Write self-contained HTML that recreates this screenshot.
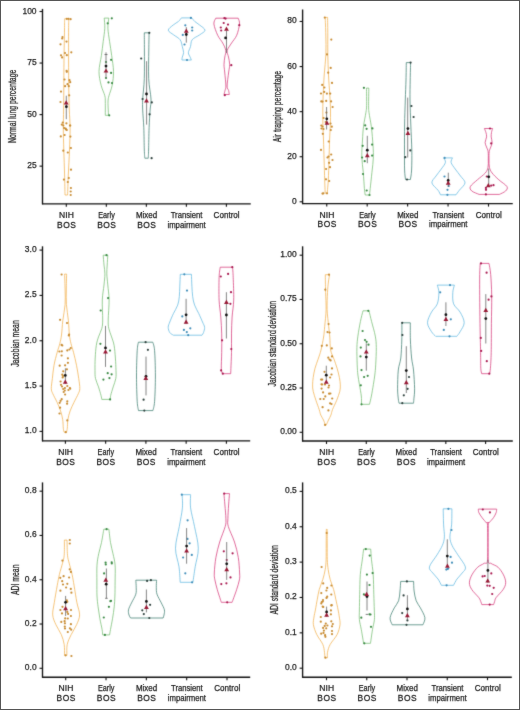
<!DOCTYPE html><html><head><meta charset="utf-8"><style>
html,body{margin:0;padding:0;background:#fff;}
svg{display:block;} text{font-family:"Liberation Sans", sans-serif;fill:#1a1a1a;stroke:#1a1a1a;stroke-width:0.25px;} .tk{font-size:9.2px;} .xl{font-size:8.8px;} .yl{font-size:10.3px;}
</style></head><body>
<svg width="520" height="710" viewBox="0 0 520 710">
<defs><filter id="bl" x="0" y="0" width="520" height="710" filterUnits="userSpaceOnUse" color-interpolation-filters="sRGB"><feConvolveMatrix order="3" kernelMatrix="0.02 0.08 0.02 0.08 0.6 0.08 0.02 0.08 0.02" edgeMode="duplicate" preserveAlpha="false"/></filter><filter id="bl2" x="0" y="0" width="520" height="710" filterUnits="userSpaceOnUse" color-interpolation-filters="sRGB"><feConvolveMatrix order="3" kernelMatrix="0.01 0.05 0.01 0.05 0.76 0.05 0.01 0.05 0.01" edgeMode="duplicate" preserveAlpha="false"/></filter></defs>
<rect x="0" y="0" width="520" height="710" fill="#fff"/>
<g filter="url(#bl)">
<line x1="42.5" y1="8.9" x2="42.5" y2="204.3" stroke="#111" stroke-width="1.35"/>
<line x1="42.0" y1="203.8" x2="250.75" y2="203.8" stroke="#111" stroke-width="1.35"/>
<line x1="39.5" y1="166.15" x2="42.5" y2="166.15" stroke="#111" stroke-width="1.1"/>
<line x1="39.5" y1="114.60" x2="42.5" y2="114.60" stroke="#111" stroke-width="1.1"/>
<line x1="39.5" y1="63.05" x2="42.5" y2="63.05" stroke="#111" stroke-width="1.1"/>
<line x1="39.5" y1="11.50" x2="42.5" y2="11.50" stroke="#111" stroke-width="1.1"/>
<line x1="66.3" y1="203.8" x2="66.3" y2="206.8" stroke="#111" stroke-width="1.1"/>
<line x1="106.325" y1="203.8" x2="106.325" y2="206.8" stroke="#111" stroke-width="1.1"/>
<line x1="146.35000000000002" y1="203.8" x2="146.35000000000002" y2="206.8" stroke="#111" stroke-width="1.1"/>
<line x1="186.375" y1="203.8" x2="186.375" y2="206.8" stroke="#111" stroke-width="1.1"/>
<line x1="226.40000000000003" y1="203.8" x2="226.40000000000003" y2="206.8" stroke="#111" stroke-width="1.1"/>
<line x1="302.6" y1="9.5" x2="302.6" y2="204.1" stroke="#111" stroke-width="1.35"/>
<line x1="302.1" y1="203.6" x2="512.75" y2="203.6" stroke="#111" stroke-width="1.35"/>
<line x1="299.6" y1="201.80" x2="302.6" y2="201.80" stroke="#111" stroke-width="1.1"/>
<line x1="299.6" y1="156.72" x2="302.6" y2="156.72" stroke="#111" stroke-width="1.1"/>
<line x1="299.6" y1="111.64" x2="302.6" y2="111.64" stroke="#111" stroke-width="1.1"/>
<line x1="299.6" y1="66.56" x2="302.6" y2="66.56" stroke="#111" stroke-width="1.1"/>
<line x1="299.6" y1="21.48" x2="302.6" y2="21.48" stroke="#111" stroke-width="1.1"/>
<line x1="326.75" y1="203.6" x2="326.75" y2="206.6" stroke="#111" stroke-width="1.1"/>
<line x1="367.1875" y1="203.6" x2="367.1875" y2="206.6" stroke="#111" stroke-width="1.1"/>
<line x1="407.625" y1="203.6" x2="407.625" y2="206.6" stroke="#111" stroke-width="1.1"/>
<line x1="448.0625" y1="203.6" x2="448.0625" y2="206.6" stroke="#111" stroke-width="1.1"/>
<line x1="488.5" y1="203.6" x2="488.5" y2="206.6" stroke="#111" stroke-width="1.1"/>
<line x1="42.5" y1="246.3" x2="42.5" y2="441.35" stroke="#111" stroke-width="1.35"/>
<line x1="42.0" y1="440.85" x2="250.2" y2="440.85" stroke="#111" stroke-width="1.35"/>
<line x1="39.5" y1="431.40" x2="42.5" y2="431.40" stroke="#111" stroke-width="1.1"/>
<line x1="39.5" y1="386.07" x2="42.5" y2="386.07" stroke="#111" stroke-width="1.1"/>
<line x1="39.5" y1="340.75" x2="42.5" y2="340.75" stroke="#111" stroke-width="1.1"/>
<line x1="39.5" y1="295.42" x2="42.5" y2="295.42" stroke="#111" stroke-width="1.1"/>
<line x1="39.5" y1="250.10" x2="42.5" y2="250.10" stroke="#111" stroke-width="1.1"/>
<line x1="65.4" y1="440.85" x2="65.4" y2="443.85" stroke="#111" stroke-width="1.1"/>
<line x1="105.65" y1="440.85" x2="105.65" y2="443.85" stroke="#111" stroke-width="1.1"/>
<line x1="145.9" y1="440.85" x2="145.9" y2="443.85" stroke="#111" stroke-width="1.1"/>
<line x1="186.15" y1="440.85" x2="186.15" y2="443.85" stroke="#111" stroke-width="1.1"/>
<line x1="226.4" y1="440.85" x2="226.4" y2="443.85" stroke="#111" stroke-width="1.1"/>
<line x1="302.6" y1="246.3" x2="302.6" y2="441.5" stroke="#111" stroke-width="1.35"/>
<line x1="302.1" y1="441.0" x2="512.8" y2="441.0" stroke="#111" stroke-width="1.35"/>
<line x1="299.6" y1="432.30" x2="302.6" y2="432.30" stroke="#111" stroke-width="1.1"/>
<line x1="299.6" y1="388.03" x2="302.6" y2="388.03" stroke="#111" stroke-width="1.1"/>
<line x1="299.6" y1="343.75" x2="302.6" y2="343.75" stroke="#111" stroke-width="1.1"/>
<line x1="299.6" y1="299.48" x2="302.6" y2="299.48" stroke="#111" stroke-width="1.1"/>
<line x1="299.6" y1="255.20" x2="302.6" y2="255.20" stroke="#111" stroke-width="1.1"/>
<line x1="326.5" y1="441.0" x2="326.5" y2="444.0" stroke="#111" stroke-width="1.1"/>
<line x1="366.275" y1="441.0" x2="366.275" y2="444.0" stroke="#111" stroke-width="1.1"/>
<line x1="406.05" y1="441.0" x2="406.05" y2="444.0" stroke="#111" stroke-width="1.1"/>
<line x1="445.82500000000005" y1="441.0" x2="445.82500000000005" y2="444.0" stroke="#111" stroke-width="1.1"/>
<line x1="485.6" y1="441.0" x2="485.6" y2="444.0" stroke="#111" stroke-width="1.1"/>
<line x1="42.5" y1="482.4" x2="42.5" y2="677.7" stroke="#111" stroke-width="1.35"/>
<line x1="42.0" y1="677.2" x2="250.2" y2="677.2" stroke="#111" stroke-width="1.35"/>
<line x1="39.5" y1="668.30" x2="42.5" y2="668.30" stroke="#111" stroke-width="1.1"/>
<line x1="39.5" y1="624.02" x2="42.5" y2="624.02" stroke="#111" stroke-width="1.1"/>
<line x1="39.5" y1="579.74" x2="42.5" y2="579.74" stroke="#111" stroke-width="1.1"/>
<line x1="39.5" y1="535.46" x2="42.5" y2="535.46" stroke="#111" stroke-width="1.1"/>
<line x1="39.5" y1="491.18" x2="42.5" y2="491.18" stroke="#111" stroke-width="1.1"/>
<line x1="65.7" y1="677.2" x2="65.7" y2="680.2" stroke="#111" stroke-width="1.1"/>
<line x1="106.025" y1="677.2" x2="106.025" y2="680.2" stroke="#111" stroke-width="1.1"/>
<line x1="146.35000000000002" y1="677.2" x2="146.35000000000002" y2="680.2" stroke="#111" stroke-width="1.1"/>
<line x1="186.675" y1="677.2" x2="186.675" y2="680.2" stroke="#111" stroke-width="1.1"/>
<line x1="227.0" y1="677.2" x2="227.0" y2="680.2" stroke="#111" stroke-width="1.1"/>
<line x1="302.6" y1="482.4" x2="302.6" y2="677.7" stroke="#111" stroke-width="1.35"/>
<line x1="302.1" y1="677.2" x2="511.8" y2="677.2" stroke="#111" stroke-width="1.35"/>
<line x1="299.6" y1="668.20" x2="302.6" y2="668.20" stroke="#111" stroke-width="1.1"/>
<line x1="299.6" y1="632.84" x2="302.6" y2="632.84" stroke="#111" stroke-width="1.1"/>
<line x1="299.6" y1="597.48" x2="302.6" y2="597.48" stroke="#111" stroke-width="1.1"/>
<line x1="299.6" y1="562.12" x2="302.6" y2="562.12" stroke="#111" stroke-width="1.1"/>
<line x1="299.6" y1="526.76" x2="302.6" y2="526.76" stroke="#111" stroke-width="1.1"/>
<line x1="299.6" y1="491.40" x2="302.6" y2="491.40" stroke="#111" stroke-width="1.1"/>
<line x1="326.5" y1="677.2" x2="326.5" y2="680.2" stroke="#111" stroke-width="1.1"/>
<line x1="366.75" y1="677.2" x2="366.75" y2="680.2" stroke="#111" stroke-width="1.1"/>
<line x1="407.0" y1="677.2" x2="407.0" y2="680.2" stroke="#111" stroke-width="1.1"/>
<line x1="447.25" y1="677.2" x2="447.25" y2="680.2" stroke="#111" stroke-width="1.1"/>
<line x1="487.5" y1="677.2" x2="487.5" y2="680.2" stroke="#111" stroke-width="1.1"/>
<path d="M64.60,18.80 C64.58,20.67 64.60,23.13 64.50,30.00 C64.40,36.87 64.12,50.00 64.00,60.00 C63.88,70.00 63.87,81.67 63.80,90.00 C63.73,98.33 63.68,103.67 63.60,110.00 C63.52,116.33 63.27,121.33 63.30,128.00 C63.33,134.67 63.58,142.17 63.80,150.00 C64.02,157.83 64.40,167.50 64.60,175.00 C64.80,182.50 64.93,191.67 65.00,195.00 L67.60,195.00 C67.72,191.67 67.98,182.50 68.30,175.00 C68.62,167.50 69.20,157.83 69.50,150.00 C69.80,142.17 70.13,134.67 70.10,128.00 C70.07,121.33 69.52,116.33 69.30,110.00 C69.08,103.67 68.92,98.33 68.80,90.00 C68.68,81.67 68.63,70.00 68.60,60.00 C68.57,50.00 68.57,36.87 68.60,30.00 C68.63,23.13 68.77,20.67 68.80,18.80 Z" fill="none" stroke="#F2B04E" stroke-width="0.75" stroke-linejoin="round"/>
<path d="M104.20,18.10 C104.30,19.78 104.97,24.28 104.80,28.20 C104.63,32.12 103.77,37.03 103.20,41.60 C102.63,46.17 102.10,50.63 101.40,55.60 C100.70,60.57 99.05,66.47 99.00,71.40 C98.95,76.33 100.13,81.15 101.10,85.20 C102.07,89.25 104.10,92.90 104.80,95.70 C105.50,98.50 105.22,98.73 105.30,102.00 C105.38,105.27 105.30,113.08 105.30,115.30 L108.50,115.30 C108.42,113.08 107.92,105.27 108.00,102.00 C108.08,98.73 108.30,98.50 109.00,95.70 C109.70,92.90 111.45,89.25 112.20,85.20 C112.95,81.15 113.58,76.33 113.50,71.40 C113.42,66.47 112.35,60.57 111.70,55.60 C111.05,50.63 110.23,46.17 109.60,41.60 C108.97,37.03 108.03,32.12 107.90,28.20 C107.77,24.28 108.65,19.78 108.80,18.10 Z" fill="none" stroke="#74BC70" stroke-width="0.75" stroke-linejoin="round"/>
<path d="M144.30,32.80 C144.32,35.67 144.40,42.35 144.40,50.00 C144.40,57.65 144.58,70.53 144.30,78.70 C144.02,86.87 142.97,93.78 142.70,99.00 C142.43,104.22 142.52,105.22 142.70,110.00 C142.88,114.78 143.53,121.03 143.80,127.70 C144.07,134.37 144.13,144.92 144.30,150.00 C144.47,155.08 144.72,156.83 144.80,158.20 L148.30,158.20 C148.35,156.83 148.47,155.08 148.60,150.00 C148.73,144.92 148.85,134.37 149.10,127.70 C149.35,121.03 149.78,114.78 150.10,110.00 C150.42,105.22 151.23,104.22 151.00,99.00 C150.77,93.78 149.07,86.87 148.70,78.70 C148.33,70.53 148.73,57.65 148.80,50.00 C148.87,42.35 149.05,35.67 149.10,32.80 Z" fill="none" stroke="#3E7D70" stroke-width="0.75" stroke-linejoin="round"/>
<path d="M181.40,17.90 C180.90,18.50 179.77,20.32 178.40,21.50 C177.03,22.68 174.88,23.55 173.20,25.00 C171.52,26.45 168.22,28.55 168.30,30.20 C168.38,31.85 171.73,33.32 173.70,34.90 C175.67,36.48 178.67,37.75 180.10,39.70 C181.53,41.65 181.72,44.43 182.30,46.60 C182.88,48.77 183.60,50.97 183.60,52.70 C183.60,54.43 182.58,55.78 182.30,57.00 C182.02,58.22 181.97,59.50 181.90,60.00 L191.40,60.00 C191.18,59.50 190.60,58.22 190.10,57.00 C189.60,55.78 188.33,54.43 188.40,52.70 C188.47,50.97 189.87,48.77 190.50,46.60 C191.13,44.43 190.68,41.65 192.20,39.70 C193.72,37.75 197.47,36.48 199.60,34.90 C201.73,33.32 205.00,31.85 205.00,30.20 C205.00,28.55 201.30,26.45 199.60,25.00 C197.90,23.55 196.10,22.68 194.80,21.50 C193.50,20.32 192.30,18.50 191.80,17.90 Z" fill="none" stroke="#62B8E0" stroke-width="0.75" stroke-linejoin="round"/>
<path d="M215.80,18.20 C215.48,19.17 213.58,21.15 213.90,24.00 C214.22,26.85 216.23,32.13 217.70,35.30 C219.17,38.47 221.35,40.45 222.70,43.00 C224.05,45.55 225.45,48.27 225.80,50.60 C226.15,52.93 225.10,54.68 224.80,57.00 C224.50,59.32 224.02,62.00 224.00,64.50 C223.98,67.00 224.38,68.42 224.70,72.00 C225.02,75.58 225.85,82.92 225.90,86.00 C225.95,89.08 225.32,89.08 225.00,90.50 C224.68,91.92 224.17,93.83 224.00,94.50 L229.30,94.50 C229.18,93.83 228.97,91.92 228.60,90.50 C228.23,89.08 227.08,89.08 227.10,86.00 C227.12,82.92 228.27,75.58 228.70,72.00 C229.13,68.42 229.73,67.00 229.70,64.50 C229.67,62.00 228.92,59.32 228.50,57.00 C228.08,54.68 226.68,52.93 227.20,50.60 C227.72,48.27 230.02,45.55 231.60,43.00 C233.18,40.45 235.38,38.47 236.70,35.30 C238.02,32.13 239.25,26.85 239.50,24.00 C239.75,21.15 238.42,19.17 238.20,18.20 Z" fill="none" stroke="#D63A79" stroke-width="0.75" stroke-linejoin="round"/>
<circle cx="66.8" cy="18.8" r="1.1" fill="#C88C33"/>
<circle cx="68.5" cy="18.8" r="1.1" fill="#C88C33"/>
<circle cx="70.6" cy="19.2" r="1.1" fill="#C88C33"/>
<circle cx="62.5" cy="37" r="1.1" fill="#C88C33"/>
<circle cx="62.2" cy="38.5" r="1.1" fill="#C88C33"/>
<circle cx="60.5" cy="44.3" r="1.1" fill="#C88C33"/>
<circle cx="66.5" cy="41.6" r="1.1" fill="#C88C33"/>
<circle cx="71.3" cy="52.3" r="1.1" fill="#C88C33"/>
<circle cx="65" cy="53" r="1.1" fill="#C88C33"/>
<circle cx="66.8" cy="55.2" r="1.1" fill="#C88C33"/>
<circle cx="61" cy="55.3" r="1.1" fill="#C88C33"/>
<circle cx="62.1" cy="57.4" r="1.1" fill="#C88C33"/>
<circle cx="66.6" cy="70.8" r="1.1" fill="#C88C33"/>
<circle cx="66.8" cy="71.8" r="1.1" fill="#C88C33"/>
<circle cx="64.5" cy="79.5" r="1.1" fill="#C88C33"/>
<circle cx="69.5" cy="80.2" r="1.1" fill="#C88C33"/>
<circle cx="70.2" cy="82.2" r="1.1" fill="#C88C33"/>
<circle cx="67.5" cy="84.2" r="1.1" fill="#C88C33"/>
<circle cx="68.8" cy="86.2" r="1.1" fill="#C88C33"/>
<circle cx="65.1" cy="86.2" r="1.1" fill="#C88C33"/>
<circle cx="61" cy="91.6" r="1.1" fill="#C88C33"/>
<circle cx="69.2" cy="95.3" r="1.1" fill="#C88C33"/>
<circle cx="60.5" cy="102" r="1.1" fill="#C88C33"/>
<circle cx="62.8" cy="122.6" r="1.1" fill="#C88C33"/>
<circle cx="66.4" cy="123.3" r="1.1" fill="#C88C33"/>
<circle cx="70.2" cy="125.5" r="1.1" fill="#C88C33"/>
<circle cx="61.8" cy="124.6" r="1.1" fill="#C88C33"/>
<circle cx="64.1" cy="128" r="1.1" fill="#C88C33"/>
<circle cx="65.9" cy="129.3" r="1.1" fill="#C88C33"/>
<circle cx="63.3" cy="125.5" r="1.1" fill="#C88C33"/>
<circle cx="65.6" cy="128.5" r="1.1" fill="#C88C33"/>
<circle cx="66.8" cy="130" r="1.1" fill="#C88C33"/>
<circle cx="70" cy="125.5" r="1.1" fill="#C88C33"/>
<circle cx="60.8" cy="136.4" r="1.1" fill="#C88C33"/>
<circle cx="64.6" cy="135" r="1.1" fill="#C88C33"/>
<circle cx="70.4" cy="136.6" r="1.1" fill="#C88C33"/>
<circle cx="63.3" cy="150.7" r="1.1" fill="#C88C33"/>
<circle cx="70.9" cy="148" r="1.1" fill="#C88C33"/>
<circle cx="67.8" cy="152.5" r="1.1" fill="#C88C33"/>
<circle cx="71" cy="169.7" r="1.1" fill="#C88C33"/>
<circle cx="63.9" cy="179.6" r="1.1" fill="#C88C33"/>
<circle cx="68.8" cy="178" r="1.1" fill="#C88C33"/>
<circle cx="67.8" cy="182" r="1.1" fill="#C88C33"/>
<circle cx="70.9" cy="188" r="1.1" fill="#C88C33"/>
<circle cx="70.7" cy="191.5" r="1.1" fill="#C88C33"/>
<circle cx="70.7" cy="195" r="1.1" fill="#C88C33"/>
<circle cx="111.8" cy="18.3" r="1.1" fill="#3A8A44"/>
<circle cx="107.7" cy="23.3" r="1.1" fill="#3A8A44"/>
<circle cx="111.1" cy="59.8" r="1.1" fill="#3A8A44"/>
<circle cx="111.1" cy="72.9" r="1.1" fill="#3A8A44"/>
<circle cx="108.5" cy="82.4" r="1.1" fill="#3A8A44"/>
<circle cx="112" cy="83.1" r="1.1" fill="#3A8A44"/>
<circle cx="109.2" cy="115.3" r="1.1" fill="#3A8A44"/>
<circle cx="106" cy="62" r="1.1" fill="#3A8A44"/>
<circle cx="106" cy="78" r="1.1" fill="#3A8A44"/>
<circle cx="149.3" cy="32.8" r="1.1" fill="#2C3F3B"/>
<circle cx="141.2" cy="58.5" r="1.1" fill="#2C3F3B"/>
<circle cx="142.6" cy="99" r="1.1" fill="#2C3F3B"/>
<circle cx="151.8" cy="102.4" r="1.1" fill="#2C3F3B"/>
<circle cx="149.6" cy="114.3" r="1.1" fill="#2C3F3B"/>
<circle cx="151.6" cy="158.2" r="1.1" fill="#2C3F3B"/>
<circle cx="190.9" cy="17.9" r="1.1" fill="#3F8DB8"/>
<circle cx="185.3" cy="25.3" r="1.1" fill="#3F8DB8"/>
<circle cx="192.2" cy="27.5" r="1.1" fill="#3F8DB8"/>
<circle cx="192.2" cy="30.5" r="1.1" fill="#3F8DB8"/>
<circle cx="182.8" cy="34.9" r="1.1" fill="#3F8DB8"/>
<circle cx="184.5" cy="44.5" r="1.1" fill="#3F8DB8"/>
<circle cx="187" cy="60" r="1.1" fill="#3F8DB8"/>
<circle cx="224.4" cy="18.2" r="1.1" fill="#A8184F"/>
<circle cx="225.6" cy="18.6" r="1.1" fill="#A8184F"/>
<circle cx="223.7" cy="23" r="1.1" fill="#A8184F"/>
<circle cx="228" cy="24.6" r="1.1" fill="#A8184F"/>
<circle cx="220.8" cy="27.5" r="1.1" fill="#A8184F"/>
<circle cx="221.2" cy="30.5" r="1.1" fill="#A8184F"/>
<circle cx="231.3" cy="65.2" r="1.1" fill="#A8184F"/>
<circle cx="224.8" cy="95.2" r="1.1" fill="#A8184F"/>
<circle cx="239.3" cy="25.2" r="1.1" fill="#A8184F"/>
<line x1="66.3" y1="95.7" x2="66.3" y2="119.2" stroke="#666" stroke-width="0.8"/>
<circle cx="66.4" cy="106.7" r="1.4" fill="#111"/>
<path d="M63.80,104.50 L68.60,104.50 L66.20,100.30 Z" fill="#981834"/>
<line x1="106" y1="52.3" x2="106" y2="78" stroke="#666" stroke-width="0.8"/>
<line x1="104.5" y1="54.5" x2="107.5" y2="54.5" stroke="#5a5a5a" stroke-width="0.8"/>
<circle cx="106" cy="66.1" r="1.4" fill="#111"/>
<path d="M103.60,72.60 L108.40,72.60 L106.00,68.40 Z" fill="#981834"/>
<line x1="146.6" y1="61.2" x2="146.6" y2="124.6" stroke="#666" stroke-width="0.8"/>
<circle cx="146.5" cy="94" r="1.4" fill="#111"/>
<path d="M144.10,102.50 L148.90,102.50 L146.50,98.30 Z" fill="#981834"/>
<line x1="186.3" y1="27.1" x2="186.3" y2="42.7" stroke="#666" stroke-width="0.8"/>
<circle cx="186.3" cy="34.5" r="1.4" fill="#111"/>
<path d="M183.90,32.70 L188.70,32.70 L186.30,28.50 Z" fill="#981834"/>
<line x1="226.5" y1="30.9" x2="226.5" y2="53.1" stroke="#666" stroke-width="0.8"/>
<circle cx="225.6" cy="37.9" r="1.4" fill="#111"/>
<path d="M224.10,30.70 L228.90,30.70 L226.50,26.50 Z" fill="#981834"/>
<path d="M325.20,17.40 C325.30,20.33 325.68,28.83 325.80,35.00 C325.92,41.17 326.17,47.73 325.90,54.40 C325.63,61.07 324.65,68.23 324.20,75.00 C323.75,81.77 323.43,89.17 323.20,95.00 C322.97,100.83 322.85,105.00 322.80,110.00 C322.75,115.00 322.78,120.00 322.90,125.00 C323.02,130.00 323.30,134.17 323.50,140.00 C323.70,145.83 323.90,153.33 324.10,160.00 C324.30,166.67 324.52,174.47 324.70,180.00 C324.88,185.53 325.12,191.00 325.20,193.20 L327.20,193.20 C327.38,191.00 328.00,185.53 328.30,180.00 C328.60,174.47 328.78,166.67 329.00,160.00 C329.22,153.33 329.38,145.83 329.60,140.00 C329.82,134.17 330.15,130.00 330.30,125.00 C330.45,120.00 330.58,115.00 330.50,110.00 C330.42,105.00 330.13,100.83 329.80,95.00 C329.47,89.17 328.83,81.77 328.50,75.00 C328.17,68.23 327.92,61.07 327.80,54.40 C327.68,47.73 327.83,41.17 327.80,35.00 C327.77,28.83 327.63,20.33 327.60,17.40 Z" fill="none" stroke="#F2B04E" stroke-width="0.75" stroke-linejoin="round"/>
<path d="M366.50,88.10 C366.52,91.02 366.70,101.52 366.60,105.60 C366.50,109.68 366.42,109.12 365.90,112.60 C365.38,116.08 364.07,121.93 363.50,126.50 C362.93,131.07 362.78,134.97 362.50,140.00 C362.22,145.03 361.67,151.27 361.80,156.70 C361.93,162.13 362.87,167.30 363.30,172.60 C363.73,177.90 364.08,184.77 364.40,188.50 C364.72,192.23 365.07,193.92 365.20,195.00 L369.50,195.00 C369.62,193.92 369.80,192.23 370.20,188.50 C370.60,184.77 371.37,177.90 371.90,172.60 C372.43,167.30 373.28,162.13 373.40,156.70 C373.52,151.27 372.95,145.03 372.60,140.00 C372.25,134.97 371.90,131.07 371.30,126.50 C370.70,121.93 369.45,116.08 369.00,112.60 C368.55,109.12 368.63,109.68 368.60,105.60 C368.57,101.52 368.77,91.02 368.80,88.10 Z" fill="none" stroke="#74BC70" stroke-width="0.75" stroke-linejoin="round"/>
<path d="M406.30,62.60 C406.25,65.50 406.17,73.77 406.00,80.00 C405.83,86.23 405.53,92.50 405.30,100.00 C405.07,107.50 404.73,116.67 404.60,125.00 C404.47,133.33 404.50,142.50 404.50,150.00 C404.50,157.50 404.43,165.08 404.60,170.00 C404.77,174.92 405.35,177.92 405.50,179.50 L410.40,179.50 C410.60,177.92 411.37,174.92 411.60,170.00 C411.83,165.08 411.93,157.50 411.80,150.00 C411.67,142.50 411.10,133.33 410.80,125.00 C410.50,116.67 410.10,107.50 410.00,100.00 C409.90,92.50 410.10,86.23 410.20,80.00 C410.30,73.77 410.53,65.50 410.60,62.60 Z" fill="none" stroke="#3E7D70" stroke-width="0.75" stroke-linejoin="round"/>
<path d="M443.80,157.90 C444.07,158.67 445.82,160.65 445.40,162.50 C444.98,164.35 442.87,166.75 441.30,169.00 C439.73,171.25 437.57,173.68 436.00,176.00 C434.43,178.32 431.55,180.52 431.90,182.90 C432.25,185.28 436.67,188.32 438.10,190.30 C439.53,192.28 440.10,194.05 440.50,194.80 L456.00,194.80 C456.55,194.05 457.80,192.28 459.30,190.30 C460.80,188.32 464.80,185.28 465.00,182.90 C465.20,180.52 462.13,178.32 460.50,176.00 C458.87,173.68 456.77,171.25 455.20,169.00 C453.63,166.75 451.55,164.35 451.10,162.50 C450.65,160.65 452.27,158.67 452.50,157.90 Z" fill="none" stroke="#62B8E0" stroke-width="0.75" stroke-linejoin="round"/>
<path d="M484.40,128.50 C484.65,129.15 485.53,131.00 485.90,132.40 C486.27,133.80 486.73,135.22 486.60,136.90 C486.47,138.58 485.12,140.82 485.10,142.50 C485.08,144.18 486.00,145.48 486.50,147.00 C487.00,148.52 487.80,149.43 488.10,151.60 C488.40,153.77 488.32,157.38 488.30,160.00 C488.28,162.62 488.50,165.13 488.00,167.30 C487.50,169.47 487.07,170.92 485.30,173.00 C483.53,175.08 479.88,177.55 477.40,179.80 C474.92,182.05 471.33,184.63 470.40,186.50 C469.47,188.37 470.35,189.68 471.80,191.00 C473.25,192.32 477.88,193.83 479.10,194.40 L499.40,194.40 C500.43,193.83 504.35,192.32 505.60,191.00 C506.85,189.68 508.03,188.37 506.90,186.50 C505.77,184.63 501.27,182.05 498.80,179.80 C496.33,177.55 493.67,175.08 492.10,173.00 C490.53,170.92 489.92,169.47 489.40,167.30 C488.88,165.13 489.03,162.62 489.00,160.00 C488.97,157.38 488.90,153.77 489.20,151.60 C489.50,149.43 490.32,148.52 490.80,147.00 C491.28,145.48 492.03,144.18 492.10,142.50 C492.17,140.82 491.30,138.58 491.20,136.90 C491.10,135.22 491.27,133.80 491.50,132.40 C491.73,131.00 492.42,129.15 492.60,128.50 Z" fill="none" stroke="#D63A79" stroke-width="0.75" stroke-linejoin="round"/>
<circle cx="324.8" cy="17.6" r="1.1" fill="#C88C33"/>
<circle cx="331.3" cy="39.6" r="1.1" fill="#C88C33"/>
<circle cx="327" cy="54.4" r="1.1" fill="#C88C33"/>
<circle cx="330.7" cy="67.9" r="1.1" fill="#C88C33"/>
<circle cx="328.2" cy="72.7" r="1.1" fill="#C88C33"/>
<circle cx="322.2" cy="84.9" r="1.1" fill="#C88C33"/>
<circle cx="332" cy="82.9" r="1.1" fill="#C88C33"/>
<circle cx="324.4" cy="87.5" r="1.1" fill="#C88C33"/>
<circle cx="324.2" cy="91.9" r="1.1" fill="#C88C33"/>
<circle cx="321" cy="93.5" r="1.1" fill="#C88C33"/>
<circle cx="326.9" cy="93.6" r="1.1" fill="#C88C33"/>
<circle cx="330.2" cy="93.6" r="1.1" fill="#C88C33"/>
<circle cx="321.3" cy="101.4" r="1.1" fill="#C88C33"/>
<circle cx="322.5" cy="101.6" r="1.1" fill="#C88C33"/>
<circle cx="326.2" cy="100.9" r="1.1" fill="#C88C33"/>
<circle cx="331.1" cy="101.4" r="1.1" fill="#C88C33"/>
<circle cx="332.6" cy="107" r="1.1" fill="#C88C33"/>
<circle cx="326.4" cy="112.6" r="1.1" fill="#C88C33"/>
<circle cx="323.6" cy="118" r="1.1" fill="#C88C33"/>
<circle cx="325.7" cy="122" r="1.1" fill="#C88C33"/>
<circle cx="330.5" cy="123.5" r="1.1" fill="#C88C33"/>
<circle cx="321.3" cy="125.5" r="1.1" fill="#C88C33"/>
<circle cx="322.5" cy="126.5" r="1.1" fill="#C88C33"/>
<circle cx="321.5" cy="128.5" r="1.1" fill="#C88C33"/>
<circle cx="323.5" cy="129" r="1.1" fill="#C88C33"/>
<circle cx="331.8" cy="126.7" r="1.1" fill="#C88C33"/>
<circle cx="330.8" cy="130" r="1.1" fill="#C88C33"/>
<circle cx="322.8" cy="133.8" r="1.1" fill="#C88C33"/>
<circle cx="328.7" cy="141.5" r="1.1" fill="#C88C33"/>
<circle cx="321" cy="149.9" r="1.1" fill="#C88C33"/>
<circle cx="331.2" cy="154.5" r="1.1" fill="#C88C33"/>
<circle cx="327.5" cy="157.5" r="1.1" fill="#C88C33"/>
<circle cx="328.5" cy="156.5" r="1.1" fill="#C88C33"/>
<circle cx="332.5" cy="160" r="1.1" fill="#C88C33"/>
<circle cx="329.1" cy="162.8" r="1.1" fill="#C88C33"/>
<circle cx="330" cy="167.2" r="1.1" fill="#C88C33"/>
<circle cx="326.1" cy="169" r="1.1" fill="#C88C33"/>
<circle cx="326" cy="179.3" r="1.1" fill="#C88C33"/>
<circle cx="329.2" cy="181" r="1.1" fill="#C88C33"/>
<circle cx="322.5" cy="193.6" r="1.1" fill="#C88C33"/>
<circle cx="323.4" cy="193.3" r="1.1" fill="#C88C33"/>
<circle cx="327" cy="193.3" r="1.1" fill="#C88C33"/>
<circle cx="363.9" cy="87.8" r="1.1" fill="#3A8A44"/>
<circle cx="365.2" cy="125.4" r="1.1" fill="#3A8A44"/>
<circle cx="366.6" cy="128.8" r="1.1" fill="#3A8A44"/>
<circle cx="372.4" cy="128.4" r="1.1" fill="#3A8A44"/>
<circle cx="362.7" cy="145.8" r="1.1" fill="#3A8A44"/>
<circle cx="372.1" cy="144.6" r="1.1" fill="#3A8A44"/>
<circle cx="372.1" cy="155.6" r="1.1" fill="#3A8A44"/>
<circle cx="362.1" cy="157.5" r="1.1" fill="#3A8A44"/>
<circle cx="364.7" cy="161.2" r="1.1" fill="#3A8A44"/>
<circle cx="363" cy="174" r="1.1" fill="#3A8A44"/>
<circle cx="366.7" cy="190.5" r="1.1" fill="#3A8A44"/>
<circle cx="369.5" cy="195" r="1.1" fill="#3A8A44"/>
<circle cx="410.6" cy="62.6" r="1.1" fill="#2C3F3B"/>
<circle cx="411.4" cy="106" r="1.1" fill="#2C3F3B"/>
<circle cx="413.6" cy="117" r="1.1" fill="#2C3F3B"/>
<circle cx="410.3" cy="150.4" r="1.1" fill="#2C3F3B"/>
<circle cx="405.3" cy="157.2" r="1.1" fill="#2C3F3B"/>
<circle cx="407" cy="179.5" r="1.1" fill="#2C3F3B"/>
<circle cx="444.6" cy="157.9" r="1.1" fill="#3F8DB8"/>
<circle cx="444.5" cy="176.5" r="1.1" fill="#3F8DB8"/>
<circle cx="448.7" cy="186" r="1.1" fill="#3F8DB8"/>
<circle cx="447.5" cy="189.8" r="1.1" fill="#3F8DB8"/>
<circle cx="447.4" cy="194.8" r="1.1" fill="#3F8DB8"/>
<circle cx="490.0" cy="128.5" r="1.1" fill="#A8184F"/>
<circle cx="491.2" cy="143.4" r="1.1" fill="#A8184F"/>
<circle cx="486.8" cy="176.5" r="1.1" fill="#A8184F"/>
<circle cx="491.2" cy="185.6" r="1.1" fill="#A8184F"/>
<circle cx="493.5" cy="185.2" r="1.1" fill="#A8184F"/>
<circle cx="485.9" cy="187.9" r="1.1" fill="#A8184F"/>
<circle cx="486.0" cy="189.8" r="1.1" fill="#A8184F"/>
<circle cx="485.9" cy="194.4" r="1.1" fill="#A8184F"/>
<line x1="326.6" y1="107" x2="326.6" y2="129.5" stroke="#666" stroke-width="0.8"/>
<circle cx="326.8" cy="118.8" r="1.4" fill="#111"/>
<path d="M324.60,124.70 L329.40,124.70 L327.00,120.50 Z" fill="#981834"/>
<line x1="367.3" y1="135.8" x2="367.3" y2="163.2" stroke="#666" stroke-width="0.8"/>
<circle cx="367.3" cy="150.2" r="1.4" fill="#111"/>
<path d="M364.90,157.20 L369.70,157.20 L367.30,153.00 Z" fill="#981834"/>
<line x1="407.7" y1="97.6" x2="407.7" y2="157.5" stroke="#666" stroke-width="0.8"/>
<circle cx="407.9" cy="128.6" r="1.4" fill="#111"/>
<path d="M405.50,134.90 L410.30,134.90 L407.90,130.70 Z" fill="#981834"/>
<line x1="448.3" y1="172.7" x2="448.3" y2="187" stroke="#666" stroke-width="0.8"/>
<circle cx="448.2" cy="180.4" r="1.4" fill="#111"/>
<path d="M445.80,184.70 L450.60,184.70 L448.20,180.50 Z" fill="#981834"/>
<line x1="488.7" y1="168.5" x2="488.7" y2="186.5" stroke="#666" stroke-width="0.8"/>
<circle cx="488.7" cy="176.8" r="1.4" fill="#111"/>
<path d="M485.90,187.30 L490.70,187.30 L488.30,183.10 Z" fill="#981834"/>
<path d="M64.60,274.10 C64.68,276.75 65.02,284.95 65.10,290.00 C65.18,295.05 65.48,299.30 65.10,304.40 C64.72,309.50 63.40,315.50 62.80,320.60 C62.20,325.70 62.00,331.15 61.50,335.00 C61.00,338.85 60.52,340.82 59.80,343.70 C59.08,346.58 58.17,348.70 57.20,352.30 C56.23,355.90 54.80,360.97 54.00,365.30 C53.20,369.63 52.85,374.42 52.40,378.30 C51.95,382.18 51.23,386.03 51.30,388.60 C51.37,391.17 51.83,391.42 52.80,393.70 C53.77,395.98 55.80,399.42 57.10,402.30 C58.40,405.18 59.67,408.12 60.60,411.00 C61.53,413.88 62.25,416.72 62.70,419.60 C63.15,422.48 63.08,426.22 63.30,428.30 C63.52,430.38 63.88,431.47 64.00,432.10 L66.50,432.10 C66.63,431.47 67.07,430.38 67.30,428.30 C67.53,426.22 67.43,422.48 67.90,419.60 C68.37,416.72 69.08,413.88 70.10,411.00 C71.12,408.12 72.63,405.18 74.00,402.30 C75.37,399.42 77.33,395.98 78.30,393.70 C79.27,391.42 79.73,391.17 79.80,388.60 C79.87,386.03 79.25,382.18 78.70,378.30 C78.15,374.42 77.37,369.63 76.50,365.30 C75.63,360.97 74.42,355.90 73.50,352.30 C72.58,348.70 71.68,346.58 71.00,343.70 C70.32,340.82 69.83,338.85 69.40,335.00 C68.97,331.15 68.90,325.70 68.40,320.60 C67.90,315.50 66.75,309.50 66.40,304.40 C66.05,299.30 66.27,295.05 66.30,290.00 C66.33,284.95 66.55,276.75 66.60,274.10 Z" fill="none" stroke="#F2B04E" stroke-width="0.75" stroke-linejoin="round"/>
<path d="M103.20,255.20 C103.33,256.83 103.72,261.90 104.00,265.00 C104.28,268.10 104.90,270.47 104.90,273.80 C104.90,277.13 104.43,280.63 104.00,285.00 C103.57,289.37 102.52,294.17 102.30,300.00 C102.08,305.83 102.78,315.25 102.70,320.00 C102.62,324.75 102.50,325.68 101.80,328.50 C101.10,331.32 99.42,334.08 98.50,336.90 C97.58,339.72 96.85,341.88 96.30,345.40 C95.75,348.92 95.42,353.78 95.20,358.00 C94.98,362.22 94.95,367.28 95.00,370.70 C95.05,374.12 94.92,375.80 95.50,378.50 C96.08,381.20 97.58,384.08 98.50,386.90 C99.42,389.72 100.45,393.32 101.00,395.40 C101.55,397.48 101.67,398.73 101.80,399.40 L110.30,399.40 C110.37,398.73 110.22,397.48 110.70,395.40 C111.18,393.32 112.35,389.72 113.20,386.90 C114.05,384.08 115.33,381.20 115.80,378.50 C116.27,375.80 116.07,374.12 116.00,370.70 C115.93,367.28 115.72,362.22 115.40,358.00 C115.08,353.78 114.73,348.92 114.10,345.40 C113.47,341.88 112.48,339.72 111.60,336.90 C110.72,334.08 109.37,331.32 108.80,328.50 C108.23,325.68 108.15,324.75 108.20,320.00 C108.25,315.25 109.17,305.83 109.10,300.00 C109.03,294.17 108.18,289.37 107.80,285.00 C107.42,280.63 106.90,277.13 106.80,273.80 C106.70,270.47 107.03,268.10 107.20,265.00 C107.37,261.90 107.70,256.83 107.80,255.20 Z" fill="none" stroke="#74BC70" stroke-width="0.75" stroke-linejoin="round"/>
<path d="M138.40,342.20 C138.20,343.62 137.52,345.07 137.20,350.70 C136.88,356.33 136.50,367.55 136.50,376.00 C136.50,384.45 136.87,395.63 137.20,401.40 C137.53,407.17 138.28,409.07 138.50,410.60 L152.90,410.60 C153.18,409.07 154.18,407.17 154.60,401.40 C155.02,395.63 155.40,384.45 155.40,376.00 C155.40,367.55 155.03,356.33 154.60,350.70 C154.17,345.07 153.10,343.62 152.80,342.20 Z" fill="none" stroke="#3E7D70" stroke-width="0.75" stroke-linejoin="round"/>
<path d="M180.30,274.30 C180.22,276.27 179.97,282.37 179.80,286.10 C179.63,289.83 179.65,293.53 179.30,296.70 C178.95,299.87 178.68,302.28 177.70,305.10 C176.72,307.92 174.72,310.78 173.40,313.60 C172.08,316.42 170.67,319.72 169.80,322.00 C168.93,324.28 168.20,325.53 168.20,327.30 C168.20,329.07 168.93,331.28 169.80,332.60 C170.67,333.92 172.80,334.77 173.40,335.20 L202.00,335.20 C202.25,334.77 203.07,333.92 203.50,332.60 C203.93,331.28 204.77,329.07 204.60,327.30 C204.43,325.53 203.47,324.28 202.50,322.00 C201.53,319.72 200.12,316.42 198.80,313.60 C197.48,310.78 195.62,307.92 194.60,305.10 C193.58,302.28 193.15,299.87 192.70,296.70 C192.25,293.53 192.12,289.83 191.90,286.10 C191.68,282.37 191.48,276.27 191.40,274.30 Z" fill="none" stroke="#62B8E0" stroke-width="0.75" stroke-linejoin="round"/>
<path d="M220.20,267.20 C220.02,268.92 219.28,272.02 219.10,277.50 C218.92,282.98 218.82,293.52 219.10,300.10 C219.38,306.68 220.37,311.37 220.80,317.00 C221.23,322.63 221.55,327.98 221.70,333.90 C221.85,339.82 221.77,346.77 221.70,352.50 C221.63,358.23 221.17,364.77 221.30,368.30 C221.43,371.83 222.30,372.80 222.50,373.70 L230.70,373.70 C230.73,372.80 230.77,371.83 230.90,368.30 C231.03,364.77 231.40,358.23 231.50,352.50 C231.60,346.77 231.40,339.82 231.50,333.90 C231.60,327.98 231.73,322.63 232.10,317.00 C232.47,311.37 233.52,306.68 233.70,300.10 C233.88,293.52 233.38,282.98 233.20,277.50 C233.02,272.02 232.70,268.92 232.60,267.20 Z" fill="none" stroke="#D63A79" stroke-width="0.75" stroke-linejoin="round"/>
<circle cx="61.6" cy="274.5" r="1.1" fill="#C88C33"/>
<circle cx="60.1" cy="319.8" r="1.1" fill="#C88C33"/>
<circle cx="67" cy="323" r="1.1" fill="#C88C33"/>
<circle cx="69.1" cy="334.5" r="1.1" fill="#C88C33"/>
<circle cx="68.8" cy="335.5" r="1.1" fill="#C88C33"/>
<circle cx="61.6" cy="344.9" r="1.1" fill="#C88C33"/>
<circle cx="62.3" cy="345.5" r="1.1" fill="#C88C33"/>
<circle cx="59.4" cy="351.5" r="1.1" fill="#C88C33"/>
<circle cx="61.8" cy="351.3" r="1.1" fill="#C88C33"/>
<circle cx="67.3" cy="350.4" r="1.1" fill="#C88C33"/>
<circle cx="69.4" cy="349.5" r="1.1" fill="#C88C33"/>
<circle cx="70.8" cy="348" r="1.1" fill="#C88C33"/>
<circle cx="61.6" cy="355.5" r="1.1" fill="#C88C33"/>
<circle cx="67.9" cy="358.3" r="1.1" fill="#C88C33"/>
<circle cx="67.9" cy="362.8" r="1.1" fill="#C88C33"/>
<circle cx="59.7" cy="365.7" r="1.1" fill="#C88C33"/>
<circle cx="65.1" cy="365.3" r="1.1" fill="#C88C33"/>
<circle cx="66.9" cy="369.3" r="1.1" fill="#C88C33"/>
<circle cx="63.2" cy="371.3" r="1.1" fill="#C88C33"/>
<circle cx="62.3" cy="374.7" r="1.1" fill="#C88C33"/>
<circle cx="63" cy="376" r="1.1" fill="#C88C33"/>
<circle cx="62.7" cy="377.5" r="1.1" fill="#C88C33"/>
<circle cx="60.6" cy="381.5" r="1.1" fill="#C88C33"/>
<circle cx="61" cy="384.8" r="1.1" fill="#C88C33"/>
<circle cx="62" cy="386.5" r="1.1" fill="#C88C33"/>
<circle cx="67.3" cy="386" r="1.1" fill="#C88C33"/>
<circle cx="69.8" cy="388" r="1.1" fill="#C88C33"/>
<circle cx="68.4" cy="390" r="1.1" fill="#C88C33"/>
<circle cx="63.2" cy="389" r="1.1" fill="#C88C33"/>
<circle cx="64.8" cy="390.5" r="1.1" fill="#C88C33"/>
<circle cx="63.7" cy="392" r="1.1" fill="#C88C33"/>
<circle cx="65.1" cy="394.5" r="1.1" fill="#C88C33"/>
<circle cx="70.2" cy="388.7" r="1.1" fill="#C88C33"/>
<circle cx="64.9" cy="388" r="1.1" fill="#C88C33"/>
<circle cx="61.7" cy="399.2" r="1.1" fill="#C88C33"/>
<circle cx="60.6" cy="400.8" r="1.1" fill="#C88C33"/>
<circle cx="59.7" cy="402.8" r="1.1" fill="#C88C33"/>
<circle cx="67.3" cy="401.3" r="1.1" fill="#C88C33"/>
<circle cx="67.1" cy="403.7" r="1.1" fill="#C88C33"/>
<circle cx="60.1" cy="407.7" r="1.1" fill="#C88C33"/>
<circle cx="59.5" cy="413.5" r="1.1" fill="#C88C33"/>
<circle cx="67.3" cy="420.4" r="1.1" fill="#C88C33"/>
<circle cx="65.8" cy="432.2" r="1.1" fill="#C88C33"/>
<circle cx="106.5" cy="255.2" r="1.1" fill="#3A8A44"/>
<circle cx="108.1" cy="298.1" r="1.1" fill="#3A8A44"/>
<circle cx="100.7" cy="310.5" r="1.1" fill="#3A8A44"/>
<circle cx="100.4" cy="343.8" r="1.1" fill="#3A8A44"/>
<circle cx="110" cy="350.6" r="1.1" fill="#3A8A44"/>
<circle cx="111.1" cy="366.5" r="1.1" fill="#3A8A44"/>
<circle cx="107.7" cy="373.2" r="1.1" fill="#3A8A44"/>
<circle cx="111.6" cy="374.3" r="1.1" fill="#3A8A44"/>
<circle cx="109.4" cy="378.1" r="1.1" fill="#3A8A44"/>
<circle cx="103.4" cy="379.6" r="1.1" fill="#3A8A44"/>
<circle cx="110.1" cy="399.4" r="1.1" fill="#3A8A44"/>
<circle cx="145.6" cy="342.2" r="1.1" fill="#2C3F3B"/>
<circle cx="147.9" cy="349.8" r="1.1" fill="#2C3F3B"/>
<circle cx="143.6" cy="399.7" r="1.1" fill="#2C3F3B"/>
<circle cx="144.3" cy="410.6" r="1.1" fill="#2C3F3B"/>
<circle cx="184.3" cy="274.3" r="1.1" fill="#3F8DB8"/>
<circle cx="187" cy="290.6" r="1.1" fill="#3F8DB8"/>
<circle cx="182.3" cy="316.4" r="1.1" fill="#3F8DB8"/>
<circle cx="183.9" cy="329.9" r="1.1" fill="#3F8DB8"/>
<circle cx="190.3" cy="328.3" r="1.1" fill="#3F8DB8"/>
<circle cx="186.8" cy="332.1" r="1.1" fill="#3F8DB8"/>
<circle cx="188.2" cy="335.2" r="1.1" fill="#3F8DB8"/>
<circle cx="232.3" cy="267.2" r="1.1" fill="#A8184F"/>
<circle cx="228.1" cy="273.9" r="1.1" fill="#A8184F"/>
<circle cx="220.8" cy="276.5" r="1.1" fill="#A8184F"/>
<circle cx="231" cy="292.2" r="1.1" fill="#A8184F"/>
<circle cx="230.4" cy="303.8" r="1.1" fill="#A8184F"/>
<circle cx="222.1" cy="340.3" r="1.1" fill="#A8184F"/>
<circle cx="231.3" cy="349" r="1.1" fill="#A8184F"/>
<circle cx="221.1" cy="370.4" r="1.1" fill="#A8184F"/>
<circle cx="222.8" cy="373.7" r="1.1" fill="#A8184F"/>
<line x1="65.4" y1="368.3" x2="65.4" y2="384" stroke="#666" stroke-width="0.8"/>
<circle cx="65.3" cy="375.4" r="1.4" fill="#111"/>
<path d="M62.90,383.70 L67.70,383.70 L65.30,379.50 Z" fill="#981834"/>
<line x1="105.5" y1="325.9" x2="105.5" y2="366.9" stroke="#666" stroke-width="0.8"/>
<circle cx="105.5" cy="347.9" r="1.4" fill="#111"/>
<path d="M103.10,353.40 L107.90,353.40 L105.50,349.20 Z" fill="#981834"/>
<line x1="146" y1="356.6" x2="146" y2="395.4" stroke="#666" stroke-width="0.8"/>
<circle cx="146" cy="376.3" r="1.4" fill="#111"/>
<path d="M143.40,379.90 L148.20,379.90 L145.80,375.70 Z" fill="#981834"/>
<line x1="186.1" y1="298.8" x2="186.1" y2="324.1" stroke="#666" stroke-width="0.8"/>
<circle cx="186.1" cy="314.8" r="1.4" fill="#111"/>
<path d="M183.70,323.70 L188.50,323.70 L186.10,319.50 Z" fill="#981834"/>
<line x1="226.4" y1="292.2" x2="226.4" y2="338.5" stroke="#666" stroke-width="0.8"/>
<circle cx="226.4" cy="315" r="1.4" fill="#111"/>
<path d="M224.00,304.00 L228.80,304.00 L226.40,299.80 Z" fill="#981834"/>
<path d="M325.30,274.70 C325.32,275.92 325.35,279.03 325.40,282.00 C325.45,284.97 325.48,287.92 325.60,292.50 C325.72,297.08 326.25,303.85 326.10,309.50 C325.95,315.15 325.12,321.82 324.70,326.40 C324.28,330.98 324.22,333.07 323.60,337.00 C322.98,340.93 321.92,346.30 321.00,350.00 C320.08,353.70 319.10,356.15 318.10,359.20 C317.10,362.25 315.82,365.25 315.00,368.30 C314.18,371.35 313.60,374.73 313.20,377.50 C312.80,380.27 312.60,382.60 312.60,384.90 C312.60,387.20 312.63,388.70 313.20,391.30 C313.77,393.90 315.00,397.45 316.00,400.50 C317.00,403.55 318.40,407.17 319.20,409.60 C320.00,412.03 320.08,413.37 320.80,415.10 C321.52,416.83 322.77,418.40 323.50,420.00 C324.23,421.60 324.92,423.92 325.20,424.70 L326.40,424.70 C326.75,423.92 327.75,421.60 328.50,420.00 C329.25,418.40 330.23,416.83 330.90,415.10 C331.57,413.37 331.55,412.03 332.50,409.60 C333.45,407.17 335.38,403.55 336.60,400.50 C337.82,397.45 339.18,393.90 339.80,391.30 C340.42,388.70 340.37,387.20 340.30,384.90 C340.23,382.60 339.93,380.27 339.40,377.50 C338.87,374.73 338.00,371.35 337.10,368.30 C336.20,365.25 335.08,362.25 334.00,359.20 C332.92,356.15 331.30,353.70 330.60,350.00 C329.90,346.30 330.12,340.93 329.80,337.00 C329.48,333.07 329.15,330.98 328.70,326.40 C328.25,321.82 327.30,315.15 327.10,309.50 C326.90,303.85 327.28,297.08 327.50,292.50 C327.72,287.92 328.05,284.97 328.40,282.00 C328.75,279.03 329.40,275.92 329.60,274.70 Z" fill="none" stroke="#F2B04E" stroke-width="0.75" stroke-linejoin="round"/>
<path d="M363.00,310.80 C362.57,312.60 361.25,317.38 360.40,321.60 C359.55,325.82 358.48,331.77 357.90,336.10 C357.32,340.43 357.02,342.80 356.90,347.60 C356.78,352.40 357.03,360.33 357.20,364.90 C357.37,369.47 357.53,371.75 357.90,375.00 C358.27,378.25 358.83,380.90 359.40,384.40 C359.97,387.90 360.95,392.68 361.30,396.00 C361.65,399.32 361.47,402.92 361.50,404.30 L369.50,404.30 C369.82,402.92 370.75,399.32 371.40,396.00 C372.05,392.68 372.83,387.90 373.40,384.40 C373.97,380.90 374.42,378.25 374.80,375.00 C375.18,371.75 375.45,369.47 375.70,364.90 C375.95,360.33 376.37,352.40 376.30,347.60 C376.23,342.80 376.08,340.43 375.30,336.10 C374.52,331.77 372.65,325.82 371.60,321.60 C370.55,317.38 369.43,312.60 369.00,310.80 Z" fill="none" stroke="#74BC70" stroke-width="0.75" stroke-linejoin="round"/>
<path d="M401.90,322.80 C401.88,325.67 401.98,334.13 401.80,340.00 C401.62,345.87 401.38,353.00 400.80,358.00 C400.22,363.00 398.83,364.87 398.30,370.00 C397.77,375.13 397.60,383.98 397.60,388.80 C397.60,393.62 398.07,396.50 398.30,398.90 C398.53,401.30 398.88,402.48 399.00,403.20 L413.50,403.20 C413.57,402.48 413.72,401.30 413.90,398.90 C414.08,396.50 414.67,393.62 414.60,388.80 C414.53,383.98 414.00,375.13 413.50,370.00 C413.00,364.87 412.12,363.00 411.60,358.00 C411.08,353.00 410.62,345.87 410.40,340.00 C410.18,334.13 410.32,325.67 410.30,322.80 Z" fill="none" stroke="#3E7D70" stroke-width="0.75" stroke-linejoin="round"/>
<path d="M437.30,285.10 C437.57,286.33 438.90,289.37 438.90,292.50 C438.90,295.63 438.53,300.63 437.30,303.90 C436.07,307.17 433.13,308.97 431.50,312.10 C429.87,315.23 427.50,319.43 427.50,322.70 C427.50,325.97 430.15,329.43 431.50,331.70 C432.85,333.97 434.92,335.53 435.60,336.30 L456.90,336.30 C457.43,335.53 458.88,333.97 460.10,331.70 C461.32,329.43 464.20,325.97 464.20,322.70 C464.20,319.43 461.87,315.23 460.10,312.10 C458.33,308.97 454.82,307.17 453.60,303.90 C452.38,300.63 452.67,295.63 452.80,292.50 C452.93,289.37 454.13,286.33 454.40,285.10 Z" fill="none" stroke="#62B8E0" stroke-width="0.75" stroke-linejoin="round"/>
<path d="M480.20,263.40 C480.12,265.25 479.78,269.10 479.70,274.50 C479.62,279.90 479.65,287.63 479.70,295.80 C479.75,303.97 479.85,314.05 480.00,323.50 C480.15,332.95 480.47,345.03 480.60,352.50 C480.73,359.97 480.62,364.77 480.80,368.30 C480.98,371.83 481.55,372.80 481.70,373.70 L489.60,373.70 C489.73,372.80 490.13,371.83 490.40,368.30 C490.67,364.77 491.03,359.97 491.20,352.50 C491.37,345.03 491.32,332.95 491.40,323.50 C491.48,314.05 491.82,303.97 491.70,295.80 C491.58,287.63 491.15,279.90 490.70,274.50 C490.25,269.10 489.28,265.25 489.00,263.40 Z" fill="none" stroke="#D63A79" stroke-width="0.75" stroke-linejoin="round"/>
<circle cx="329" cy="274.7" r="1.1" fill="#C88C33"/>
<circle cx="325.3" cy="289.7" r="1.1" fill="#C88C33"/>
<circle cx="328.6" cy="324" r="1.1" fill="#C88C33"/>
<circle cx="327.5" cy="332.1" r="1.1" fill="#C88C33"/>
<circle cx="329.5" cy="332.5" r="1.1" fill="#C88C33"/>
<circle cx="321.8" cy="345.8" r="1.1" fill="#C88C33"/>
<circle cx="326.8" cy="345.4" r="1.1" fill="#C88C33"/>
<circle cx="331.8" cy="348.4" r="1.1" fill="#C88C33"/>
<circle cx="328.3" cy="357.7" r="1.1" fill="#C88C33"/>
<circle cx="332" cy="356.4" r="1.1" fill="#C88C33"/>
<circle cx="329.5" cy="359.5" r="1.1" fill="#C88C33"/>
<circle cx="330.6" cy="360.4" r="1.1" fill="#C88C33"/>
<circle cx="324.5" cy="371.8" r="1.1" fill="#C88C33"/>
<circle cx="332" cy="368.4" r="1.1" fill="#C88C33"/>
<circle cx="331.5" cy="374.5" r="1.1" fill="#C88C33"/>
<circle cx="330.1" cy="377.5" r="1.1" fill="#C88C33"/>
<circle cx="321.1" cy="379.6" r="1.1" fill="#C88C33"/>
<circle cx="322.2" cy="379.6" r="1.1" fill="#C88C33"/>
<circle cx="321.5" cy="384.3" r="1.1" fill="#C88C33"/>
<circle cx="322.2" cy="384.5" r="1.1" fill="#C88C33"/>
<circle cx="325" cy="384.5" r="1.1" fill="#C88C33"/>
<circle cx="329" cy="385.5" r="1.1" fill="#C88C33"/>
<circle cx="328.5" cy="387.5" r="1.1" fill="#C88C33"/>
<circle cx="321.6" cy="388.6" r="1.1" fill="#C88C33"/>
<circle cx="323.1" cy="392.4" r="1.1" fill="#C88C33"/>
<circle cx="329.1" cy="393.7" r="1.1" fill="#C88C33"/>
<circle cx="330.4" cy="393.5" r="1.1" fill="#C88C33"/>
<circle cx="325.3" cy="396.4" r="1.1" fill="#C88C33"/>
<circle cx="320.3" cy="399" r="1.1" fill="#C88C33"/>
<circle cx="323.7" cy="399" r="1.1" fill="#C88C33"/>
<circle cx="332.2" cy="398.5" r="1.1" fill="#C88C33"/>
<circle cx="330.1" cy="403.3" r="1.1" fill="#C88C33"/>
<circle cx="331.5" cy="404" r="1.1" fill="#C88C33"/>
<circle cx="322.6" cy="407.2" r="1.1" fill="#C88C33"/>
<circle cx="328.4" cy="410.4" r="1.1" fill="#C88C33"/>
<circle cx="325.1" cy="424.9" r="1.1" fill="#C88C33"/>
<circle cx="368.3" cy="310.8" r="1.1" fill="#3A8A44"/>
<circle cx="362.6" cy="331" r="1.1" fill="#3A8A44"/>
<circle cx="365" cy="340" r="1.1" fill="#3A8A44"/>
<circle cx="366.6" cy="341.8" r="1.1" fill="#3A8A44"/>
<circle cx="368.5" cy="344.7" r="1.1" fill="#3A8A44"/>
<circle cx="360.8" cy="347.6" r="1.1" fill="#3A8A44"/>
<circle cx="360.5" cy="356.4" r="1.1" fill="#3A8A44"/>
<circle cx="361.5" cy="370.1" r="1.1" fill="#3A8A44"/>
<circle cx="367.7" cy="375.8" r="1.1" fill="#3A8A44"/>
<circle cx="364.1" cy="377" r="1.1" fill="#3A8A44"/>
<circle cx="360.8" cy="385.3" r="1.1" fill="#3A8A44"/>
<circle cx="361.5" cy="404.3" r="1.1" fill="#3A8A44"/>
<circle cx="402.2" cy="322.8" r="1.1" fill="#2C3F3B"/>
<circle cx="402.4" cy="335" r="1.1" fill="#2C3F3B"/>
<circle cx="409" cy="377" r="1.1" fill="#2C3F3B"/>
<circle cx="407.6" cy="388.8" r="1.1" fill="#2C3F3B"/>
<circle cx="403.8" cy="395.3" r="1.1" fill="#2C3F3B"/>
<circle cx="402.3" cy="403.2" r="1.1" fill="#2C3F3B"/>
<circle cx="450" cy="285.1" r="1.1" fill="#3F8DB8"/>
<circle cx="440.2" cy="292.3" r="1.1" fill="#3F8DB8"/>
<circle cx="450.8" cy="319.3" r="1.1" fill="#3F8DB8"/>
<circle cx="443.8" cy="329.9" r="1.1" fill="#3F8DB8"/>
<circle cx="449.5" cy="336.3" r="1.1" fill="#3F8DB8"/>
<circle cx="481" cy="263.4" r="1.1" fill="#A8184F"/>
<circle cx="486.6" cy="272.7" r="1.1" fill="#A8184F"/>
<circle cx="491.4" cy="296.4" r="1.1" fill="#A8184F"/>
<circle cx="488.6" cy="299.7" r="1.1" fill="#A8184F"/>
<circle cx="480.8" cy="337.9" r="1.1" fill="#A8184F"/>
<circle cx="481.2" cy="350.9" r="1.1" fill="#A8184F"/>
<circle cx="486.8" cy="361.2" r="1.1" fill="#A8184F"/>
<circle cx="489.3" cy="373.7" r="1.1" fill="#A8184F"/>
<line x1="326.3" y1="365.7" x2="326.3" y2="382" stroke="#666" stroke-width="0.8"/>
<circle cx="326.3" cy="375.2" r="1.4" fill="#111"/>
<path d="M323.90,383.80 L328.70,383.80 L326.30,379.60 Z" fill="#981834"/>
<line x1="366.3" y1="343.3" x2="366.3" y2="370.7" stroke="#666" stroke-width="0.8"/>
<circle cx="366.3" cy="357.1" r="1.4" fill="#111"/>
<path d="M363.90,353.60 L368.70,353.60 L366.30,349.40 Z" fill="#981834"/>
<line x1="406.3" y1="346.2" x2="406.3" y2="393" stroke="#666" stroke-width="0.8"/>
<circle cx="406.3" cy="370.6" r="1.4" fill="#111"/>
<path d="M403.90,384.30 L408.70,384.30 L406.30,380.10 Z" fill="#981834"/>
<line x1="445.9" y1="302.3" x2="445.9" y2="326" stroke="#666" stroke-width="0.8"/>
<circle cx="445.9" cy="314.7" r="1.4" fill="#111"/>
<path d="M443.50,321.00 L448.30,321.00 L445.90,316.80 Z" fill="#981834"/>
<line x1="485.8" y1="294.1" x2="485.8" y2="343.5" stroke="#666" stroke-width="0.8"/>
<circle cx="485.8" cy="318.6" r="1.4" fill="#111"/>
<path d="M483.40,312.00 L488.20,312.00 L485.80,307.80 Z" fill="#981834"/>
<path d="M64.40,540.10 C64.37,542.63 64.52,551.45 64.20,555.30 C63.88,559.15 63.30,560.00 62.50,563.20 C61.70,566.40 60.28,570.75 59.40,574.50 C58.52,578.25 58.05,581.02 57.20,585.70 C56.35,590.38 55.05,597.73 54.30,602.60 C53.55,607.47 52.43,611.22 52.70,614.90 C52.97,618.58 54.47,621.42 55.90,624.70 C57.33,627.98 59.92,631.30 61.30,634.60 C62.68,637.90 63.67,641.05 64.20,644.50 C64.73,647.95 64.45,653.50 64.50,655.30 L66.90,655.30 C66.95,653.50 66.48,647.95 67.20,644.50 C67.92,641.05 69.63,637.90 71.20,634.60 C72.77,631.30 75.20,627.98 76.60,624.70 C78.00,621.42 79.55,618.58 79.60,614.90 C79.65,611.22 77.82,607.47 76.90,602.60 C75.98,597.73 74.90,590.38 74.10,585.70 C73.30,581.02 72.92,578.25 72.10,574.50 C71.28,570.75 69.97,566.40 69.20,563.20 C68.43,560.00 67.87,559.15 67.50,555.30 C67.13,551.45 67.08,542.63 67.00,540.10 Z" fill="none" stroke="#F2B04E" stroke-width="0.75" stroke-linejoin="round"/>
<path d="M103.80,529.20 C103.42,531.42 102.35,538.40 101.50,542.50 C100.65,546.60 99.45,550.03 98.70,553.80 C97.95,557.57 97.30,560.40 97.00,565.10 C96.70,569.80 96.90,576.85 96.90,582.00 C96.90,587.15 96.80,591.85 97.00,596.00 C97.20,600.15 97.63,603.20 98.10,606.90 C98.57,610.60 99.13,614.43 99.80,618.20 C100.47,621.97 101.62,626.72 102.10,629.50 C102.58,632.28 102.60,634.00 102.70,634.90 L109.60,634.90 C109.75,634.00 110.00,632.28 110.50,629.50 C111.00,626.72 111.98,621.97 112.60,618.20 C113.22,614.43 113.82,610.60 114.20,606.90 C114.58,603.20 114.75,600.15 114.90,596.00 C115.05,591.85 115.07,587.15 115.10,582.00 C115.13,576.85 115.45,569.80 115.10,565.10 C114.75,560.40 113.77,557.57 113.00,553.80 C112.23,550.03 111.18,546.60 110.50,542.50 C109.82,538.40 109.17,531.42 108.90,529.20 Z" fill="none" stroke="#74BC70" stroke-width="0.75" stroke-linejoin="round"/>
<path d="M135.80,580.20 C135.87,581.38 136.20,584.97 136.20,587.30 C136.20,589.63 136.58,591.60 135.80,594.20 C135.02,596.80 132.72,600.30 131.50,602.90 C130.28,605.50 128.92,607.78 128.50,609.80 C128.08,611.82 128.65,613.63 129.00,615.00 C129.35,616.37 130.33,617.50 130.60,618.00 L163.10,618.00 C163.25,617.50 163.78,616.37 164.00,615.00 C164.22,613.63 164.85,611.82 164.40,609.80 C163.95,607.78 162.53,605.50 161.30,602.90 C160.07,600.30 157.83,596.80 157.00,594.20 C156.17,591.60 156.37,589.63 156.30,587.30 C156.23,584.97 156.55,581.38 156.60,580.20 Z" fill="none" stroke="#3E7D70" stroke-width="0.75" stroke-linejoin="round"/>
<path d="M182.10,494.70 C182.15,496.90 182.87,502.60 182.40,507.90 C181.93,513.20 180.45,519.78 179.30,526.50 C178.15,533.22 175.55,541.48 175.50,548.20 C175.45,554.92 178.22,561.12 179.00,566.80 C179.78,572.48 180.00,579.72 180.20,582.30 L192.90,582.30 C193.28,579.72 194.30,572.48 195.20,566.80 C196.10,561.12 198.42,554.92 198.30,548.20 C198.18,541.48 195.78,533.22 194.50,526.50 C193.22,519.78 191.25,513.20 190.60,507.90 C189.95,502.60 190.60,496.90 190.60,494.70 Z" fill="none" stroke="#62B8E0" stroke-width="0.75" stroke-linejoin="round"/>
<path d="M223.90,493.60 C224.07,495.50 224.57,500.80 224.90,505.00 C225.23,509.20 225.85,515.22 225.90,518.80 C225.95,522.38 226.23,522.63 225.20,526.50 C224.17,530.37 221.25,536.83 219.70,542.00 C218.15,547.17 216.80,552.33 215.90,557.50 C215.00,562.67 214.47,569.27 214.30,573.00 C214.13,576.73 214.40,577.12 214.90,579.90 C215.40,582.68 216.48,586.75 217.30,589.70 C218.12,592.65 219.13,595.50 219.80,597.60 C220.47,599.70 221.05,601.52 221.30,602.30 L232.10,602.30 C232.38,601.52 233.05,599.70 233.80,597.60 C234.55,595.50 235.67,592.65 236.60,589.70 C237.53,586.75 238.90,582.68 239.40,579.90 C239.90,577.12 239.78,576.73 239.60,573.00 C239.42,569.27 239.15,562.67 238.30,557.50 C237.45,552.33 236.17,547.17 234.50,542.00 C232.83,536.83 229.40,530.37 228.30,526.50 C227.20,522.63 227.85,522.38 227.90,518.80 C227.95,515.22 228.33,509.20 228.60,505.00 C228.87,500.80 229.35,495.50 229.50,493.60 Z" fill="none" stroke="#D63A79" stroke-width="0.75" stroke-linejoin="round"/>
<circle cx="69.8" cy="540" r="1.1" fill="#C88C33"/>
<circle cx="69.8" cy="543.5" r="1.1" fill="#C88C33"/>
<circle cx="62.4" cy="560.6" r="1.1" fill="#C88C33"/>
<circle cx="69.7" cy="569.3" r="1.1" fill="#C88C33"/>
<circle cx="70.9" cy="571.9" r="1.1" fill="#C88C33"/>
<circle cx="60.3" cy="577.8" r="1.1" fill="#C88C33"/>
<circle cx="63.6" cy="576.2" r="1.1" fill="#C88C33"/>
<circle cx="69.1" cy="577.5" r="1.1" fill="#C88C33"/>
<circle cx="62.2" cy="581.2" r="1.1" fill="#C88C33"/>
<circle cx="63" cy="584.5" r="1.1" fill="#C88C33"/>
<circle cx="67.3" cy="583.8" r="1.1" fill="#C88C33"/>
<circle cx="66.1" cy="587.5" r="1.1" fill="#C88C33"/>
<circle cx="70.8" cy="588.9" r="1.1" fill="#C88C33"/>
<circle cx="60.4" cy="590.7" r="1.1" fill="#C88C33"/>
<circle cx="71.4" cy="592.7" r="1.1" fill="#C88C33"/>
<circle cx="66.8" cy="600.3" r="1.1" fill="#C88C33"/>
<circle cx="67.3" cy="601.8" r="1.1" fill="#C88C33"/>
<circle cx="62.5" cy="606.8" r="1.1" fill="#C88C33"/>
<circle cx="60.4" cy="610" r="1.1" fill="#C88C33"/>
<circle cx="71" cy="610" r="1.1" fill="#C88C33"/>
<circle cx="62" cy="613.4" r="1.1" fill="#C88C33"/>
<circle cx="67.3" cy="611.9" r="1.1" fill="#C88C33"/>
<circle cx="68.1" cy="613.9" r="1.1" fill="#C88C33"/>
<circle cx="70.9" cy="616" r="1.1" fill="#C88C33"/>
<circle cx="65.2" cy="618.4" r="1.1" fill="#C88C33"/>
<circle cx="67.8" cy="618.5" r="1.1" fill="#C88C33"/>
<circle cx="61.3" cy="621.9" r="1.1" fill="#C88C33"/>
<circle cx="64.6" cy="621.2" r="1.1" fill="#C88C33"/>
<circle cx="64.9" cy="623.3" r="1.1" fill="#C88C33"/>
<circle cx="70.9" cy="624.2" r="1.1" fill="#C88C33"/>
<circle cx="64.8" cy="626.6" r="1.1" fill="#C88C33"/>
<circle cx="65" cy="628.5" r="1.1" fill="#C88C33"/>
<circle cx="69.9" cy="628.3" r="1.1" fill="#C88C33"/>
<circle cx="71.2" cy="629.7" r="1.1" fill="#C88C33"/>
<circle cx="67.8" cy="632" r="1.1" fill="#C88C33"/>
<circle cx="71.4" cy="656" r="1.1" fill="#C88C33"/>
<circle cx="65.6" cy="655.3" r="1.1" fill="#C88C33"/>
<circle cx="106.6" cy="529.2" r="1.1" fill="#3A8A44"/>
<circle cx="105.6" cy="562.7" r="1.1" fill="#3A8A44"/>
<circle cx="105.8" cy="564.5" r="1.1" fill="#3A8A44"/>
<circle cx="111.7" cy="562.3" r="1.1" fill="#3A8A44"/>
<circle cx="111.8" cy="563.5" r="1.1" fill="#3A8A44"/>
<circle cx="104.1" cy="573.4" r="1.1" fill="#3A8A44"/>
<circle cx="110.4" cy="601.2" r="1.1" fill="#3A8A44"/>
<circle cx="111" cy="600.8" r="1.1" fill="#3A8A44"/>
<circle cx="108.9" cy="606.8" r="1.1" fill="#3A8A44"/>
<circle cx="103.8" cy="617.5" r="1.1" fill="#3A8A44"/>
<circle cx="104.9" cy="634.9" r="1.1" fill="#3A8A44"/>
<circle cx="147.1" cy="580.9" r="1.1" fill="#2C3F3B"/>
<circle cx="150.9" cy="580.2" r="1.1" fill="#2C3F3B"/>
<circle cx="150.1" cy="604.8" r="1.1" fill="#2C3F3B"/>
<circle cx="142.3" cy="610.3" r="1.1" fill="#2C3F3B"/>
<circle cx="143.8" cy="614.1" r="1.1" fill="#2C3F3B"/>
<circle cx="149.3" cy="618" r="1.1" fill="#2C3F3B"/>
<circle cx="181.8" cy="494.7" r="1.1" fill="#3F8DB8"/>
<circle cx="187.6" cy="520.3" r="1.1" fill="#3F8DB8"/>
<circle cx="187.5" cy="538.9" r="1.1" fill="#3F8DB8"/>
<circle cx="189.6" cy="543.3" r="1.1" fill="#3F8DB8"/>
<circle cx="191.8" cy="554.9" r="1.1" fill="#3F8DB8"/>
<circle cx="183.1" cy="557.5" r="1.1" fill="#3F8DB8"/>
<circle cx="185.3" cy="573.3" r="1.1" fill="#3F8DB8"/>
<circle cx="192.1" cy="582.3" r="1.1" fill="#3F8DB8"/>
<circle cx="224.2" cy="493.6" r="1.1" fill="#A8184F"/>
<circle cx="223.8" cy="551.3" r="1.1" fill="#A8184F"/>
<circle cx="232.6" cy="553.3" r="1.1" fill="#A8184F"/>
<circle cx="226.7" cy="560" r="1.1" fill="#A8184F"/>
<circle cx="230.5" cy="577.4" r="1.1" fill="#A8184F"/>
<circle cx="221.3" cy="584.1" r="1.1" fill="#A8184F"/>
<circle cx="226.4" cy="583.3" r="1.1" fill="#A8184F"/>
<circle cx="227.2" cy="602.3" r="1.1" fill="#A8184F"/>
<line x1="65.6" y1="595.9" x2="65.6" y2="616" stroke="#666" stroke-width="0.8"/>
<circle cx="65.6" cy="602.3" r="1.4" fill="#111"/>
<path d="M63.20,610.20 L68.00,610.20 L65.60,606.00 Z" fill="#981834"/>
<line x1="106.4" y1="568.5" x2="106.4" y2="598.3" stroke="#666" stroke-width="0.8"/>
<line x1="105.10000000000001" y1="598.3" x2="107.7" y2="598.3" stroke="#5a5a5a" stroke-width="0.8"/>
<circle cx="106.2" cy="584.2" r="1.4" fill="#111"/>
<path d="M103.40,581.80 L108.20,581.80 L105.80,577.60 Z" fill="#981834"/>
<line x1="146.4" y1="589.5" x2="146.4" y2="612.4" stroke="#666" stroke-width="0.8"/>
<circle cx="146.4" cy="601.4" r="1.4" fill="#111"/>
<path d="M144.00,608.90 L148.80,608.90 L146.40,604.70 Z" fill="#981834"/>
<line x1="186.6" y1="528.1" x2="186.6" y2="563.7" stroke="#666" stroke-width="0.8"/>
<circle cx="186.6" cy="546.1" r="1.4" fill="#111"/>
<path d="M184.20,552.50 L189.00,552.50 L186.60,548.30 Z" fill="#981834"/>
<line x1="226.7" y1="542" x2="226.7" y2="579.9" stroke="#666" stroke-width="0.8"/>
<circle cx="226.7" cy="563.8" r="1.4" fill="#111"/>
<path d="M224.30,571.20 L229.10,571.20 L226.70,567.00 Z" fill="#981834"/>
<path d="M326.30,529.40 C326.28,532.00 326.23,539.95 326.20,545.00 C326.17,550.05 326.27,555.60 326.10,559.70 C325.93,563.80 325.75,566.30 325.20,569.60 C324.65,572.90 323.78,576.20 322.80,579.50 C321.82,582.80 320.22,586.12 319.30,589.40 C318.38,592.68 317.95,595.78 317.30,599.20 C316.65,602.62 315.95,606.93 315.40,609.90 C314.85,612.87 314.33,614.53 314.00,617.00 C313.67,619.47 312.93,621.77 313.40,624.70 C313.87,627.63 315.23,631.32 316.80,634.60 C318.37,637.88 321.52,641.45 322.80,644.40 C324.08,647.35 324.17,650.08 324.50,652.30 C324.83,654.52 324.75,656.80 324.80,657.70 L327.50,657.70 C327.50,656.80 327.05,654.52 327.50,652.30 C327.95,650.08 328.60,647.35 330.20,644.40 C331.80,641.45 335.47,637.88 337.10,634.60 C338.73,631.32 339.63,627.63 340.00,624.70 C340.37,621.77 339.62,619.47 339.30,617.00 C338.98,614.53 338.68,612.87 338.10,609.90 C337.52,606.93 336.55,602.62 335.80,599.20 C335.05,595.78 334.53,592.68 333.60,589.40 C332.67,586.12 331.10,582.80 330.20,579.50 C329.30,576.20 328.68,572.90 328.20,569.60 C327.72,566.30 327.47,563.80 327.30,559.70 C327.13,555.60 327.22,550.05 327.20,545.00 C327.18,539.95 327.20,532.00 327.20,529.40 Z" fill="none" stroke="#F2B04E" stroke-width="0.75" stroke-linejoin="round"/>
<path d="M363.60,549.10 C363.38,550.88 362.85,555.55 362.30,559.80 C361.75,564.05 360.73,568.85 360.30,574.60 C359.87,580.35 359.85,588.40 359.70,594.30 C359.55,600.20 359.45,605.77 359.40,610.00 C359.35,614.23 359.08,616.43 359.40,619.70 C359.72,622.97 360.60,625.67 361.30,629.60 C362.00,633.53 363.22,641.02 363.60,643.30 L370.50,643.30 C370.83,641.02 371.85,633.53 372.50,629.60 C373.15,625.67 374.10,622.97 374.40,619.70 C374.70,616.43 374.40,614.23 374.30,610.00 C374.20,605.77 373.98,600.20 373.80,594.30 C373.62,588.40 373.58,580.35 373.20,574.60 C372.82,568.85 371.92,564.05 371.50,559.80 C371.08,555.55 370.83,550.88 370.70,549.10 Z" fill="none" stroke="#74BC70" stroke-width="0.75" stroke-linejoin="round"/>
<path d="M400.70,581.40 C400.58,583.00 400.35,587.77 400.00,591.00 C399.65,594.23 399.55,597.98 398.60,600.80 C397.65,603.62 395.72,605.08 394.30,607.90 C392.88,610.72 390.45,614.88 390.10,617.70 C389.75,620.52 391.85,623.62 392.20,624.80 L422.90,624.80 C423.23,623.62 425.32,620.52 424.90,617.70 C424.48,614.88 421.85,610.72 420.40,607.90 C418.95,605.08 417.25,603.62 416.20,600.80 C415.15,597.98 414.53,594.23 414.10,591.00 C413.67,587.77 413.68,583.00 413.60,581.40 Z" fill="none" stroke="#3E7D70" stroke-width="0.75" stroke-linejoin="round"/>
<path d="M443.20,508.80 C443.27,511.48 443.40,520.22 443.60,524.90 C443.80,529.58 444.60,533.50 444.40,536.90 C444.20,540.30 443.63,542.30 442.40,545.30 C441.17,548.30 439.17,551.30 437.00,554.90 C434.83,558.50 430.10,563.88 429.40,566.90 C428.70,569.92 431.37,570.98 432.80,573.00 C434.23,575.02 436.57,576.95 438.00,579.00 C439.43,581.05 440.83,584.25 441.40,585.30 L453.50,585.30 C454.08,584.25 455.55,581.05 457.00,579.00 C458.45,576.95 460.80,575.02 462.20,573.00 C463.60,570.98 466.12,569.92 465.40,566.90 C464.68,563.88 460.13,558.50 457.90,554.90 C455.67,551.30 453.33,548.30 452.00,545.30 C450.67,542.30 449.97,540.30 449.90,536.90 C449.83,533.50 451.27,529.58 451.60,524.90 C451.93,520.22 451.85,511.48 451.90,508.80 Z" fill="none" stroke="#62B8E0" stroke-width="0.75" stroke-linejoin="round"/>
<path d="M478.30,509.10 C478.40,509.70 478.27,511.27 478.90,512.70 C479.53,514.13 480.87,516.02 482.10,517.70 C483.33,519.38 485.40,521.53 486.30,522.80 C487.20,524.07 487.28,519.17 487.50,525.30 C487.72,531.43 488.18,553.25 487.60,559.60 C487.02,565.95 485.65,562.13 484.00,563.40 C482.35,564.67 479.72,565.28 477.70,567.20 C475.68,569.12 473.28,572.30 471.90,574.90 C470.52,577.50 469.40,580.33 469.40,582.80 C469.40,585.27 470.33,587.23 471.90,589.70 C473.47,592.17 477.32,595.62 478.80,597.60 C480.28,599.58 480.30,600.43 480.80,601.60 C481.30,602.77 481.63,604.10 481.80,604.60 L493.60,604.60 C493.77,604.10 494.18,602.77 494.60,601.60 C495.02,600.43 494.70,599.58 496.10,597.60 C497.50,595.62 501.40,592.17 503.00,589.70 C504.60,587.23 505.62,585.27 505.70,582.80 C505.78,580.33 504.78,577.50 503.50,574.90 C502.22,572.30 500.08,569.12 498.00,567.20 C495.92,565.28 492.63,564.67 491.00,563.40 C489.37,562.13 488.65,565.95 488.20,559.60 C487.75,553.25 488.15,531.43 488.30,525.30 C488.45,519.17 488.23,524.07 489.10,522.80 C489.97,521.53 492.33,519.38 493.50,517.70 C494.67,516.02 495.57,514.13 496.10,512.70 C496.63,511.27 496.60,509.70 496.70,509.10 Z" fill="none" stroke="#D63A79" stroke-width="0.75" stroke-linejoin="round"/>
<circle cx="326.7" cy="533" r="1.1" fill="#C88C33"/>
<circle cx="321.6" cy="567" r="1.1" fill="#C88C33"/>
<circle cx="323.2" cy="583.4" r="1.1" fill="#C88C33"/>
<circle cx="331.4" cy="585.5" r="1.1" fill="#C88C33"/>
<circle cx="327.2" cy="587.9" r="1.1" fill="#C88C33"/>
<circle cx="326.4" cy="590.5" r="1.1" fill="#C88C33"/>
<circle cx="321.3" cy="593.1" r="1.1" fill="#C88C33"/>
<circle cx="331.3" cy="594.5" r="1.1" fill="#C88C33"/>
<circle cx="327.2" cy="596.7" r="1.1" fill="#C88C33"/>
<circle cx="326.5" cy="597.9" r="1.1" fill="#C88C33"/>
<circle cx="323" cy="600" r="1.1" fill="#C88C33"/>
<circle cx="321.8" cy="602" r="1.1" fill="#C88C33"/>
<circle cx="321.3" cy="603.4" r="1.1" fill="#C88C33"/>
<circle cx="331.7" cy="605.2" r="1.1" fill="#C88C33"/>
<circle cx="323.3" cy="607" r="1.1" fill="#C88C33"/>
<circle cx="322.8" cy="601.5" r="1.1" fill="#C88C33"/>
<circle cx="322.7" cy="606.6" r="1.1" fill="#C88C33"/>
<circle cx="331.3" cy="605.4" r="1.1" fill="#C88C33"/>
<circle cx="330.9" cy="610.4" r="1.1" fill="#C88C33"/>
<circle cx="330.9" cy="614.3" r="1.1" fill="#C88C33"/>
<circle cx="320.8" cy="617" r="1.1" fill="#C88C33"/>
<circle cx="320.8" cy="621.7" r="1.1" fill="#C88C33"/>
<circle cx="331.3" cy="621.3" r="1.1" fill="#C88C33"/>
<circle cx="325.8" cy="623.6" r="1.1" fill="#C88C33"/>
<circle cx="327.4" cy="625.5" r="1.1" fill="#C88C33"/>
<circle cx="324.7" cy="625.9" r="1.1" fill="#C88C33"/>
<circle cx="332.8" cy="624" r="1.1" fill="#C88C33"/>
<circle cx="332" cy="626.3" r="1.1" fill="#C88C33"/>
<circle cx="323.1" cy="627.9" r="1.1" fill="#C88C33"/>
<circle cx="326.2" cy="628.3" r="1.1" fill="#C88C33"/>
<circle cx="323.9" cy="630.6" r="1.1" fill="#C88C33"/>
<circle cx="332" cy="631" r="1.1" fill="#C88C33"/>
<circle cx="321.2" cy="633.7" r="1.1" fill="#C88C33"/>
<circle cx="323.5" cy="632.9" r="1.1" fill="#C88C33"/>
<circle cx="325.1" cy="635.2" r="1.1" fill="#C88C33"/>
<circle cx="332" cy="634.1" r="1.1" fill="#C88C33"/>
<circle cx="325.4" cy="636.8" r="1.1" fill="#C88C33"/>
<circle cx="325.4" cy="657.7" r="1.1" fill="#C88C33"/>
<circle cx="365.8" cy="549.1" r="1.1" fill="#3A8A44"/>
<circle cx="369.7" cy="555.6" r="1.1" fill="#3A8A44"/>
<circle cx="372.6" cy="573.1" r="1.1" fill="#3A8A44"/>
<circle cx="366.9" cy="574.6" r="1.1" fill="#3A8A44"/>
<circle cx="369.5" cy="585" r="1.1" fill="#3A8A44"/>
<circle cx="363.9" cy="594.4" r="1.1" fill="#3A8A44"/>
<circle cx="369.5" cy="614.3" r="1.1" fill="#3A8A44"/>
<circle cx="370.5" cy="614.5" r="1.1" fill="#3A8A44"/>
<circle cx="361.3" cy="617.7" r="1.1" fill="#3A8A44"/>
<circle cx="371" cy="626.8" r="1.1" fill="#3A8A44"/>
<circle cx="364.3" cy="643.3" r="1.1" fill="#3A8A44"/>
<circle cx="406.9" cy="581.4" r="1.1" fill="#2C3F3B"/>
<circle cx="403.6" cy="595.4" r="1.1" fill="#2C3F3B"/>
<circle cx="402.2" cy="613.1" r="1.1" fill="#2C3F3B"/>
<circle cx="407.4" cy="620.4" r="1.1" fill="#2C3F3B"/>
<circle cx="406.5" cy="624.8" r="1.1" fill="#2C3F3B"/>
<circle cx="448.4" cy="508.8" r="1.1" fill="#3F8DB8"/>
<circle cx="451.5" cy="530" r="1.1" fill="#3F8DB8"/>
<circle cx="450.6" cy="556.9" r="1.1" fill="#3F8DB8"/>
<circle cx="452" cy="562.7" r="1.1" fill="#3F8DB8"/>
<circle cx="446.3" cy="569.6" r="1.1" fill="#3F8DB8"/>
<circle cx="447.5" cy="569" r="1.1" fill="#3F8DB8"/>
<circle cx="448.2" cy="568.5" r="1.1" fill="#3F8DB8"/>
<circle cx="446.6" cy="585.3" r="1.1" fill="#3F8DB8"/>
<circle cx="482.8" cy="509.5" r="1.1" fill="#A8184F"/>
<circle cx="489.9" cy="512.4" r="1.1" fill="#A8184F"/>
<circle cx="491.3" cy="573.4" r="1.1" fill="#A8184F"/>
<circle cx="482.6" cy="576.4" r="1.1" fill="#A8184F"/>
<circle cx="484.7" cy="576" r="1.1" fill="#A8184F"/>
<circle cx="487.3" cy="585.6" r="1.1" fill="#A8184F"/>
<circle cx="489.7" cy="585.8" r="1.1" fill="#A8184F"/>
<circle cx="493.7" cy="587.8" r="1.1" fill="#A8184F"/>
<circle cx="492.2" cy="594" r="1.1" fill="#A8184F"/>
<circle cx="489.7" cy="604.6" r="1.1" fill="#A8184F"/>
<line x1="326.6" y1="606.6" x2="326.6" y2="616.6" stroke="#666" stroke-width="0.8"/>
<circle cx="326.6" cy="612" r="1.4" fill="#111"/>
<path d="M324.20,616.80 L329.00,616.80 L326.60,612.60 Z" fill="#981834"/>
<line x1="367" y1="581.5" x2="367" y2="610.5" stroke="#666" stroke-width="0.8"/>
<line x1="365.7" y1="614.4" x2="368.3" y2="614.4" stroke="#5a5a5a" stroke-width="0.8"/>
<circle cx="367" cy="596.5" r="1.4" fill="#111"/>
<path d="M364.20,596.00 L369.00,596.00 L366.60,591.80 Z" fill="#981834"/>
<line x1="407.4" y1="595.2" x2="407.4" y2="620" stroke="#666" stroke-width="0.8"/>
<circle cx="407.4" cy="608.9" r="1.4" fill="#111"/>
<path d="M405.00,617.20 L409.80,617.20 L407.40,613.00 Z" fill="#981834"/>
<line x1="447.3" y1="539.3" x2="447.3" y2="566" stroke="#666" stroke-width="0.8"/>
<circle cx="447.3" cy="556.1" r="1.4" fill="#111"/>
<path d="M445.00,567.80 L449.80,567.80 L447.40,563.60 Z" fill="#981834"/>
<line x1="487.9" y1="559.6" x2="487.9" y2="583" stroke="#666" stroke-width="0.8"/>
<circle cx="487.9" cy="570.4" r="1.4" fill="#111"/>
<path d="M485.30,582.60 L490.10,582.60 L487.70,578.40 Z" fill="#981834"/>
</g>
<g filter="url(#bl2)">
<text x="36.6" y="168.15" text-anchor="end" class="tk" textLength="9.41" lengthAdjust="spacingAndGlyphs">25</text>
<text x="36.6" y="116.60" text-anchor="end" class="tk" textLength="9.41" lengthAdjust="spacingAndGlyphs">50</text>
<text x="36.6" y="65.05" text-anchor="end" class="tk" textLength="9.41" lengthAdjust="spacingAndGlyphs">75</text>
<text x="36.6" y="13.50" text-anchor="end" class="tk" textLength="14.12" lengthAdjust="spacingAndGlyphs">100</text>
<text transform="translate(66.50,217.90) scale(0.97,1)" x="0" y="0" text-anchor="middle" class="xl" textLength="15.26" lengthAdjust="spacing">NIH</text>
<text transform="translate(66.50,227.60) scale(0.96,1)" x="0" y="0" text-anchor="middle" class="xl" textLength="19.58" lengthAdjust="spacing">BOS</text>
<text x="106.53" y="217.90" text-anchor="middle" class="xl" textLength="16.5" lengthAdjust="spacingAndGlyphs">Early</text>
<text transform="translate(106.53,227.60) scale(0.96,1)" x="0" y="0" text-anchor="middle" class="xl" textLength="19.58" lengthAdjust="spacing">BOS</text>
<text x="146.55" y="217.90" text-anchor="middle" class="xl" textLength="21.3" lengthAdjust="spacingAndGlyphs">Mixed</text>
<text transform="translate(146.55,227.60) scale(0.96,1)" x="0" y="0" text-anchor="middle" class="xl" textLength="19.58" lengthAdjust="spacing">BOS</text>
<text x="186.57" y="217.90" text-anchor="middle" class="xl" textLength="31.7" lengthAdjust="spacingAndGlyphs">Transient</text>
<text x="186.57" y="227.60" text-anchor="middle" class="xl" textLength="38.3" lengthAdjust="spacingAndGlyphs">impairment</text>
<text x="226.60" y="217.90" text-anchor="middle" class="xl" textLength="26.0" lengthAdjust="spacingAndGlyphs">Control</text>
<text transform="translate(15.8,106.35) rotate(-90) scale(0.667,1)" text-anchor="middle" class="yl">Normal lung percentage</text>
<text x="296.70000000000005" y="203.80" text-anchor="end" class="tk" textLength="4.71" lengthAdjust="spacingAndGlyphs">0</text>
<text x="296.70000000000005" y="158.72" text-anchor="end" class="tk" textLength="9.41" lengthAdjust="spacingAndGlyphs">20</text>
<text x="296.70000000000005" y="113.64" text-anchor="end" class="tk" textLength="9.41" lengthAdjust="spacingAndGlyphs">40</text>
<text x="296.70000000000005" y="68.56" text-anchor="end" class="tk" textLength="9.41" lengthAdjust="spacingAndGlyphs">60</text>
<text x="296.70000000000005" y="23.48" text-anchor="end" class="tk" textLength="9.41" lengthAdjust="spacingAndGlyphs">80</text>
<text transform="translate(326.95,217.70) scale(0.97,1)" x="0" y="0" text-anchor="middle" class="xl" textLength="15.26" lengthAdjust="spacing">NIH</text>
<text transform="translate(326.95,227.40) scale(0.96,1)" x="0" y="0" text-anchor="middle" class="xl" textLength="19.58" lengthAdjust="spacing">BOS</text>
<text x="367.39" y="217.70" text-anchor="middle" class="xl" textLength="16.5" lengthAdjust="spacingAndGlyphs">Early</text>
<text transform="translate(367.39,227.40) scale(0.96,1)" x="0" y="0" text-anchor="middle" class="xl" textLength="19.58" lengthAdjust="spacing">BOS</text>
<text x="407.82" y="217.70" text-anchor="middle" class="xl" textLength="21.3" lengthAdjust="spacingAndGlyphs">Mixed</text>
<text transform="translate(407.82,227.40) scale(0.96,1)" x="0" y="0" text-anchor="middle" class="xl" textLength="19.58" lengthAdjust="spacing">BOS</text>
<text x="448.26" y="217.70" text-anchor="middle" class="xl" textLength="31.7" lengthAdjust="spacingAndGlyphs">Transient</text>
<text x="448.26" y="227.40" text-anchor="middle" class="xl" textLength="38.3" lengthAdjust="spacingAndGlyphs">impairment</text>
<text x="488.70" y="217.70" text-anchor="middle" class="xl" textLength="26.0" lengthAdjust="spacingAndGlyphs">Control</text>
<text transform="translate(280.8,106.55) rotate(-90) scale(0.667,1)" text-anchor="middle" class="yl">Air trapping percentage</text>
<text x="36.6" y="433.40" text-anchor="end" class="tk" textLength="11.76" lengthAdjust="spacingAndGlyphs">1.0</text>
<text x="36.6" y="388.07" text-anchor="end" class="tk" textLength="11.76" lengthAdjust="spacingAndGlyphs">1.5</text>
<text x="36.6" y="342.75" text-anchor="end" class="tk" textLength="11.76" lengthAdjust="spacingAndGlyphs">2.0</text>
<text x="36.6" y="297.42" text-anchor="end" class="tk" textLength="11.76" lengthAdjust="spacingAndGlyphs">2.5</text>
<text x="36.6" y="252.10" text-anchor="end" class="tk" textLength="11.76" lengthAdjust="spacingAndGlyphs">3.0</text>
<text transform="translate(65.60,454.95) scale(0.97,1)" x="0" y="0" text-anchor="middle" class="xl" textLength="15.26" lengthAdjust="spacing">NIH</text>
<text transform="translate(65.60,464.65) scale(0.96,1)" x="0" y="0" text-anchor="middle" class="xl" textLength="19.58" lengthAdjust="spacing">BOS</text>
<text x="105.85" y="454.95" text-anchor="middle" class="xl" textLength="16.5" lengthAdjust="spacingAndGlyphs">Early</text>
<text transform="translate(105.85,464.65) scale(0.96,1)" x="0" y="0" text-anchor="middle" class="xl" textLength="19.58" lengthAdjust="spacing">BOS</text>
<text x="146.10" y="454.95" text-anchor="middle" class="xl" textLength="21.3" lengthAdjust="spacingAndGlyphs">Mixed</text>
<text transform="translate(146.10,464.65) scale(0.96,1)" x="0" y="0" text-anchor="middle" class="xl" textLength="19.58" lengthAdjust="spacing">BOS</text>
<text x="186.35" y="454.95" text-anchor="middle" class="xl" textLength="31.7" lengthAdjust="spacingAndGlyphs">Transient</text>
<text x="186.35" y="464.65" text-anchor="middle" class="xl" textLength="38.3" lengthAdjust="spacingAndGlyphs">impairment</text>
<text x="226.60" y="454.95" text-anchor="middle" class="xl" textLength="26.0" lengthAdjust="spacingAndGlyphs">Control</text>
<text transform="translate(19.0,343.58) rotate(-90) scale(0.667,1)" text-anchor="middle" class="yl">Jacobian mean</text>
<text x="296.70000000000005" y="434.30" text-anchor="end" class="tk" textLength="16.47" lengthAdjust="spacingAndGlyphs">0.00</text>
<text x="296.70000000000005" y="390.03" text-anchor="end" class="tk" textLength="16.47" lengthAdjust="spacingAndGlyphs">0.25</text>
<text x="296.70000000000005" y="345.75" text-anchor="end" class="tk" textLength="16.47" lengthAdjust="spacingAndGlyphs">0.50</text>
<text x="296.70000000000005" y="301.48" text-anchor="end" class="tk" textLength="16.47" lengthAdjust="spacingAndGlyphs">0.75</text>
<text x="296.70000000000005" y="257.20" text-anchor="end" class="tk" textLength="16.47" lengthAdjust="spacingAndGlyphs">1.00</text>
<text transform="translate(326.70,455.10) scale(0.97,1)" x="0" y="0" text-anchor="middle" class="xl" textLength="15.26" lengthAdjust="spacing">NIH</text>
<text transform="translate(326.70,464.80) scale(0.96,1)" x="0" y="0" text-anchor="middle" class="xl" textLength="19.58" lengthAdjust="spacing">BOS</text>
<text x="366.47" y="455.10" text-anchor="middle" class="xl" textLength="16.5" lengthAdjust="spacingAndGlyphs">Early</text>
<text transform="translate(366.47,464.80) scale(0.96,1)" x="0" y="0" text-anchor="middle" class="xl" textLength="19.58" lengthAdjust="spacing">BOS</text>
<text x="406.25" y="455.10" text-anchor="middle" class="xl" textLength="21.3" lengthAdjust="spacingAndGlyphs">Mixed</text>
<text transform="translate(406.25,464.80) scale(0.96,1)" x="0" y="0" text-anchor="middle" class="xl" textLength="19.58" lengthAdjust="spacing">BOS</text>
<text x="446.03" y="455.10" text-anchor="middle" class="xl" textLength="31.7" lengthAdjust="spacingAndGlyphs">Transient</text>
<text x="446.03" y="464.80" text-anchor="middle" class="xl" textLength="38.3" lengthAdjust="spacingAndGlyphs">impairment</text>
<text x="485.80" y="455.10" text-anchor="middle" class="xl" textLength="26.0" lengthAdjust="spacingAndGlyphs">Control</text>
<text transform="translate(275.6,343.65) rotate(-90) scale(0.667,1)" text-anchor="middle" class="yl">Jacobian standard deviation</text>
<text x="36.6" y="670.30" text-anchor="end" class="tk" textLength="11.76" lengthAdjust="spacingAndGlyphs">0.0</text>
<text x="36.6" y="626.02" text-anchor="end" class="tk" textLength="11.76" lengthAdjust="spacingAndGlyphs">0.2</text>
<text x="36.6" y="581.74" text-anchor="end" class="tk" textLength="11.76" lengthAdjust="spacingAndGlyphs">0.4</text>
<text x="36.6" y="537.46" text-anchor="end" class="tk" textLength="11.76" lengthAdjust="spacingAndGlyphs">0.6</text>
<text x="36.6" y="493.18" text-anchor="end" class="tk" textLength="11.76" lengthAdjust="spacingAndGlyphs">0.8</text>
<text transform="translate(65.90,691.30) scale(0.97,1)" x="0" y="0" text-anchor="middle" class="xl" textLength="15.26" lengthAdjust="spacing">NIH</text>
<text transform="translate(65.90,701.00) scale(0.96,1)" x="0" y="0" text-anchor="middle" class="xl" textLength="19.58" lengthAdjust="spacing">BOS</text>
<text x="106.23" y="691.30" text-anchor="middle" class="xl" textLength="16.5" lengthAdjust="spacingAndGlyphs">Early</text>
<text transform="translate(106.23,701.00) scale(0.96,1)" x="0" y="0" text-anchor="middle" class="xl" textLength="19.58" lengthAdjust="spacing">BOS</text>
<text x="146.55" y="691.30" text-anchor="middle" class="xl" textLength="21.3" lengthAdjust="spacingAndGlyphs">Mixed</text>
<text transform="translate(146.55,701.00) scale(0.96,1)" x="0" y="0" text-anchor="middle" class="xl" textLength="19.58" lengthAdjust="spacing">BOS</text>
<text x="186.88" y="691.30" text-anchor="middle" class="xl" textLength="31.7" lengthAdjust="spacingAndGlyphs">Transient</text>
<text x="186.88" y="701.00" text-anchor="middle" class="xl" textLength="38.3" lengthAdjust="spacingAndGlyphs">impairment</text>
<text x="227.20" y="691.30" text-anchor="middle" class="xl" textLength="26.0" lengthAdjust="spacingAndGlyphs">Control</text>
<text transform="translate(18.7,579.80) rotate(-90) scale(0.667,1)" text-anchor="middle" class="yl">ADI mean</text>
<text x="296.70000000000005" y="670.20" text-anchor="end" class="tk" textLength="11.76" lengthAdjust="spacingAndGlyphs">0.0</text>
<text x="296.70000000000005" y="634.84" text-anchor="end" class="tk" textLength="11.76" lengthAdjust="spacingAndGlyphs">0.1</text>
<text x="296.70000000000005" y="599.48" text-anchor="end" class="tk" textLength="11.76" lengthAdjust="spacingAndGlyphs">0.2</text>
<text x="296.70000000000005" y="564.12" text-anchor="end" class="tk" textLength="11.76" lengthAdjust="spacingAndGlyphs">0.3</text>
<text x="296.70000000000005" y="528.76" text-anchor="end" class="tk" textLength="11.76" lengthAdjust="spacingAndGlyphs">0.4</text>
<text x="296.70000000000005" y="493.40" text-anchor="end" class="tk" textLength="11.76" lengthAdjust="spacingAndGlyphs">0.5</text>
<text transform="translate(326.70,691.30) scale(0.97,1)" x="0" y="0" text-anchor="middle" class="xl" textLength="15.26" lengthAdjust="spacing">NIH</text>
<text transform="translate(326.70,701.00) scale(0.96,1)" x="0" y="0" text-anchor="middle" class="xl" textLength="19.58" lengthAdjust="spacing">BOS</text>
<text x="366.95" y="691.30" text-anchor="middle" class="xl" textLength="16.5" lengthAdjust="spacingAndGlyphs">Early</text>
<text transform="translate(366.95,701.00) scale(0.96,1)" x="0" y="0" text-anchor="middle" class="xl" textLength="19.58" lengthAdjust="spacing">BOS</text>
<text x="407.20" y="691.30" text-anchor="middle" class="xl" textLength="21.3" lengthAdjust="spacingAndGlyphs">Mixed</text>
<text transform="translate(407.20,701.00) scale(0.96,1)" x="0" y="0" text-anchor="middle" class="xl" textLength="19.58" lengthAdjust="spacing">BOS</text>
<text x="447.45" y="691.30" text-anchor="middle" class="xl" textLength="31.7" lengthAdjust="spacingAndGlyphs">Transient</text>
<text x="447.45" y="701.00" text-anchor="middle" class="xl" textLength="38.3" lengthAdjust="spacingAndGlyphs">impairment</text>
<text x="487.70" y="691.30" text-anchor="middle" class="xl" textLength="26.0" lengthAdjust="spacingAndGlyphs">Control</text>
<text transform="translate(278.2,579.80) rotate(-90) scale(0.667,1)" text-anchor="middle" class="yl">ADI standard deviation</text>
</g>
<rect x="0.5" y="0.5" width="519" height="709" fill="none" stroke="#555" stroke-width="1"/>
</svg></body></html>
